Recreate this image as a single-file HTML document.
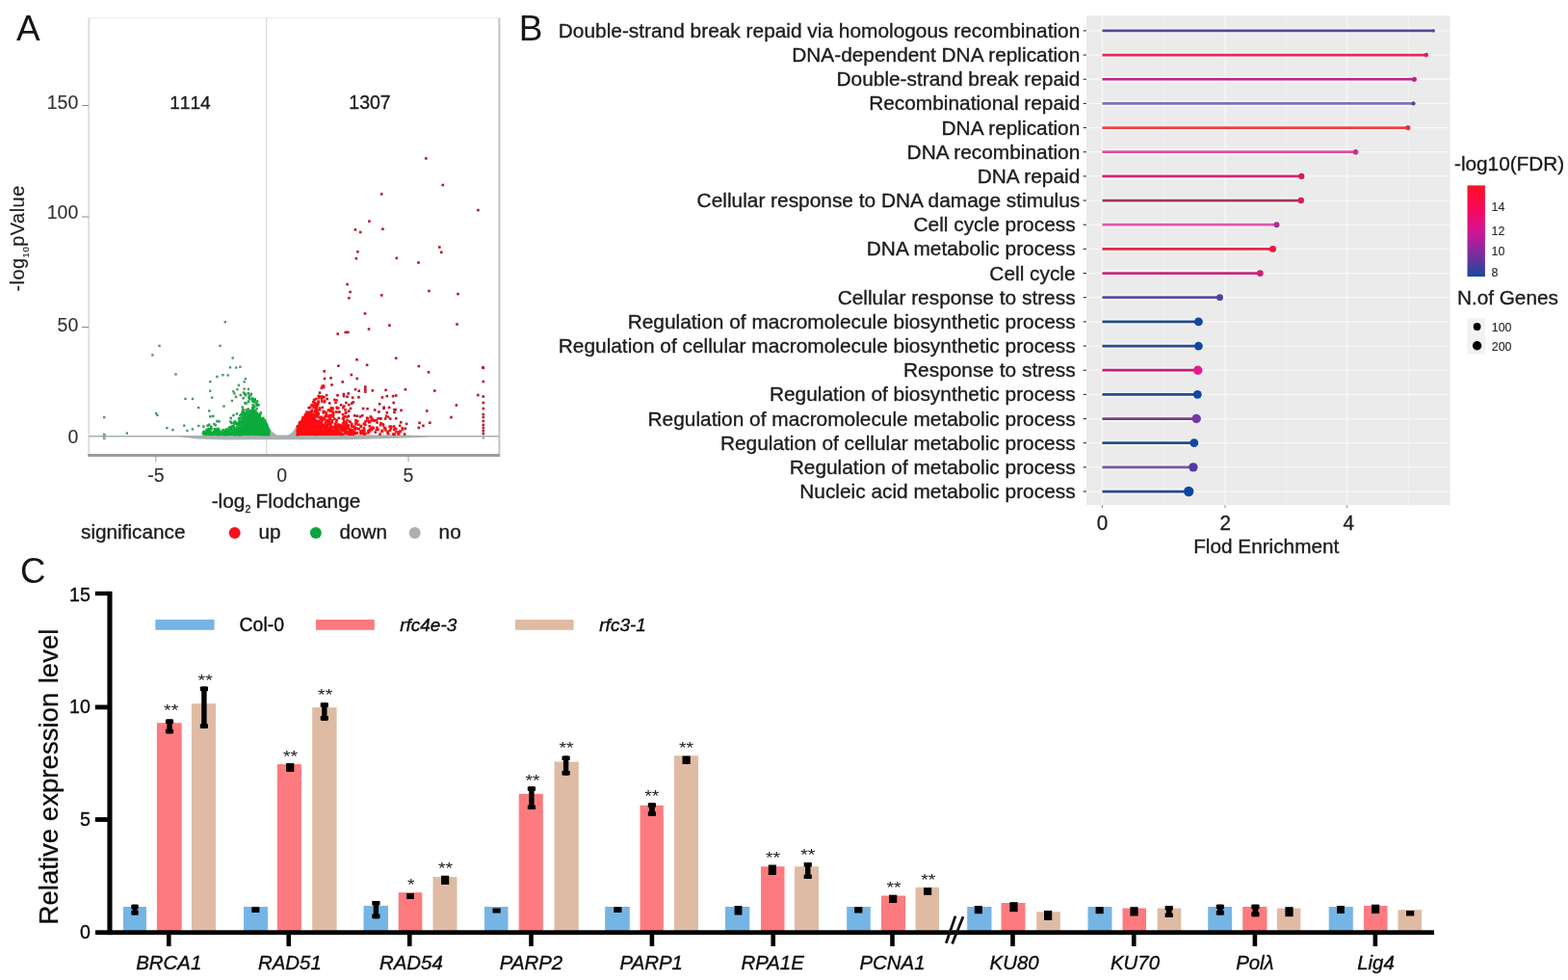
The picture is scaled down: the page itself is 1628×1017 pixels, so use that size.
<!DOCTYPE html>
<html lang="en"><head><meta charset="utf-8"><title>Figure</title>
<style>
html,body{margin:0;padding:0;background:#fff;}
body{width:1628px;height:1017px;overflow:hidden;}
svg{display:block;font-family:"Liberation Sans",sans-serif;}
</style></head><body>
<svg width="1628" height="1017" viewBox="0 0 1628 1017">
<rect width="1628" height="1017" fill="#ffffff"/>
<text x="17.0" y="41.6" font-size="37" fill="#161616">A</text>
<text x="538.7" y="41.6" font-size="37" fill="#161616">B</text>
<text x="21.0" y="605.1" font-size="36.6" fill="#161616">C</text>
<g id="panel-a-volcano">
<line x1="92.00" y1="18.60" x2="518.40" y2="18.60" stroke="#efefef" stroke-width="1.2" />
<line x1="92.30" y1="18.60" x2="92.30" y2="472.40" stroke="#dedede" stroke-width="2.0" />
<line x1="518.40" y1="18.60" x2="518.40" y2="472.40" stroke="#c4c4c4" stroke-width="2" />
<line x1="276.60" y1="18.60" x2="276.60" y2="472.40" stroke="#dcdcdc" stroke-width="1.2" />
<line x1="85.00" y1="109.50" x2="92.00" y2="109.50" stroke="#8a8a8a" stroke-width="1" />
<text transform="translate(81.3,113.0) scale(1,1.05)" font-size="19.5" text-anchor="end" fill="#303030" stroke="#303030" stroke-width="0.1">150</text>
<line x1="85.00" y1="225.00" x2="92.00" y2="225.00" stroke="#8a8a8a" stroke-width="1" />
<text transform="translate(81.3,226.9) scale(1,1.05)" font-size="19.5" text-anchor="end" fill="#303030" stroke="#303030" stroke-width="0.1">100</text>
<line x1="85.00" y1="339.50" x2="92.00" y2="339.50" stroke="#8a8a8a" stroke-width="1" />
<text transform="translate(81.3,344.0) scale(1,1.05)" font-size="19.5" text-anchor="end" fill="#303030" stroke="#303030" stroke-width="0.1">50</text>
<text transform="translate(81.3,459.5) scale(1,1.05)" font-size="19.5" text-anchor="end" fill="#303030" stroke="#303030" stroke-width="0.1">0</text>
<line x1="161.80" y1="472.40" x2="161.80" y2="479.00" stroke="#9a9a9a" stroke-width="1" />
<text x="162.00" y="499.7" font-size="19.5" text-anchor="middle" fill="#303030" stroke="#303030" stroke-width="0.1">-5</text>
<text x="292.80" y="499.7" font-size="19.5" text-anchor="middle" fill="#303030" stroke="#303030" stroke-width="0.1">0</text>
<line x1="424.00" y1="472.40" x2="424.00" y2="479.00" stroke="#9a9a9a" stroke-width="1" />
<text x="424.00" y="499.7" font-size="19.5" text-anchor="middle" fill="#303030" stroke="#303030" stroke-width="0.1">5</text>
<text x="176.20" y="113.00" font-size="19.1" text-anchor="start" fill="#1c1c1c" stroke="#1c1c1c" stroke-width="0.35" style="font-kerning:none">1114</text>
<text x="362.30" y="113.00" font-size="19.5" text-anchor="start" fill="#1c1c1c" stroke="#1c1c1c" stroke-width="0.35" >1307</text>
<text x="219.70" y="526.50" font-size="20.8" text-anchor="start" fill="#1c1c1c" stroke="#1c1c1c" stroke-width="0.35" >-log<tspan font-size="10.5" dy="5.8">2</tspan><tspan dy="-5.8" dx="-0.4"> Flodchange</tspan></text>
<text transform="translate(25.2,302.6) rotate(-90)" font-size="19.9" letter-spacing="0.5" fill="#1c1c1c" stroke="#1c1c1c" stroke-width="0.15">-log<tspan font-size="9.6" dy="4.6">10</tspan><tspan dy="-4.6">pValue</tspan></text>
<text x="84.00" y="559.20" font-size="20.75" text-anchor="start" fill="#1c1c1c" stroke="#1c1c1c" stroke-width="0.35" >significance</text>
<circle cx="243.70" cy="553.10" r="6" fill="#f5121c" />
<text x="268.50" y="559.20" font-size="20.75" text-anchor="start" fill="#1c1c1c" stroke="#1c1c1c" stroke-width="0.35" >up</text>
<circle cx="327.90" cy="553.10" r="6" fill="#0ca43c" />
<text x="352.50" y="559.20" font-size="20.75" text-anchor="start" fill="#1c1c1c" stroke="#1c1c1c" stroke-width="0.35" >down</text>
<circle cx="430.70" cy="553.10" r="6" fill="#aab0b0" />
<text x="455.60" y="559.20" font-size="20.75" text-anchor="start" fill="#1c1c1c" stroke="#1c1c1c" stroke-width="0.35" >no</text>
<g id="volcano" shape-rendering="auto">
<path d="M188 452.2 L235 451.4 L278.7 443 Q283 449.5 288 451.6 L299 451.6 Q304 449.5 308.4 441 L308.4 451 L420 451.6 L445 452.3 L445 453.4 L420 454.6 L360 456.2 L235 456.4 L205 455.4 L188 453.4 Z" fill="#a9b1b1"/>
<line x1="92.00" y1="452.70" x2="518.40" y2="452.70" stroke="#a9adad" stroke-width="1.5" />
<path d="M249 452 L249.5 440 L251.5 432 L254.5 427.5 L259 425 L264 425 L267.5 427.5 L271 433 L275 441.5 L279.2 452 Z" fill="#0cab3c"/>
<path d="M308.4 452 L308.4 443 L313 435 L317.5 429.5 L321 427.5 L324 430.5 L326.5 437 L329 443 L333 447 L340 449.5 L350 451 L350 452 Z" fill="#fb0d12"/>
<rect x="360.4" y="407.1" width="2.6" height="2.6" fill="#b8182e"/>
<rect x="392.8" y="418.0" width="2.6" height="2.6" fill="#b8182e"/>
<rect x="362.7" y="422.6" width="2.6" height="2.6" fill="#b8182e"/>
<rect x="330.7" y="406.3" width="2.6" height="2.6" fill="#b8182e"/>
<rect x="400.5" y="426.9" width="2.6" height="2.6" fill="#b8182e"/>
<rect x="393.3" y="449.3" width="2.6" height="2.6" fill="#b8182e"/>
<rect x="380.2" y="422.9" width="2.6" height="2.6" fill="#b8182e"/>
<rect x="387.9" y="424.1" width="2.6" height="2.6" fill="#b8182e"/>
<rect x="418.9" y="449.3" width="2.6" height="2.6" fill="#b8182e"/>
<rect x="340.9" y="417.1" width="2.6" height="2.6" fill="#b8182e"/>
<rect x="415.2" y="424.5" width="2.6" height="2.6" fill="#b8182e"/>
<rect x="337.8" y="408.8" width="2.6" height="2.6" fill="#b8182e"/>
<rect x="402.8" y="421.6" width="2.6" height="2.6" fill="#b8182e"/>
<rect x="358.1" y="416.7" width="2.6" height="2.6" fill="#b8182e"/>
<rect x="395.6" y="411.1" width="2.6" height="2.6" fill="#b8182e"/>
<rect x="413.9" y="440.5" width="2.6" height="2.6" fill="#b8182e"/>
<rect x="349.2" y="409.0" width="2.6" height="2.6" fill="#b8182e"/>
<rect x="352.8" y="419.0" width="2.6" height="2.6" fill="#b8182e"/>
<rect x="372.6" y="431.1" width="2.6" height="2.6" fill="#b8182e"/>
<rect x="366.9" y="430.0" width="2.6" height="2.6" fill="#b8182e"/>
<rect x="355.7" y="409.9" width="2.6" height="2.6" fill="#b8182e"/>
<rect x="360.9" y="425.3" width="2.6" height="2.6" fill="#b8182e"/>
<rect x="369.4" y="430.4" width="2.6" height="2.6" fill="#b8182e"/>
<rect x="333.5" y="421.6" width="2.6" height="2.6" fill="#b8182e"/>
<rect x="390.2" y="437.2" width="2.6" height="2.6" fill="#b8182e"/>
<rect x="393.2" y="432.8" width="2.6" height="2.6" fill="#b8182e"/>
<rect x="355.9" y="420.3" width="2.6" height="2.6" fill="#b8182e"/>
<rect x="408.2" y="426.6" width="2.6" height="2.6" fill="#b8182e"/>
<rect x="374.9" y="430.0" width="2.6" height="2.6" fill="#b8182e"/>
<rect x="351.1" y="426.2" width="2.6" height="2.6" fill="#b8182e"/>
<rect x="350.6" y="432.6" width="2.6" height="2.6" fill="#b8182e"/>
<rect x="408.1" y="423.9" width="2.6" height="2.6" fill="#b8182e"/>
<rect x="365.4" y="416.1" width="2.6" height="2.6" fill="#b8182e"/>
<rect x="403.9" y="433.3" width="2.6" height="2.6" fill="#b8182e"/>
<rect x="360.6" y="430.5" width="2.6" height="2.6" fill="#b8182e"/>
<rect x="338.4" y="412.7" width="2.6" height="2.6" fill="#b8182e"/>
<rect x="319.4" y="422.0" width="2.6" height="2.6" fill="#b8182e"/>
<rect x="397.4" y="421.4" width="2.6" height="2.6" fill="#b8182e"/>
<rect x="383.5" y="431.2" width="2.6" height="2.6" fill="#b8182e"/>
<rect x="398.8" y="433.2" width="2.6" height="2.6" fill="#b8182e"/>
<rect x="388.5" y="447.3" width="2.6" height="2.6" fill="#b8182e"/>
<rect x="397.2" y="422.6" width="2.6" height="2.6" fill="#b8182e"/>
<rect x="419.6" y="443.4" width="2.6" height="2.6" fill="#b8182e"/>
<rect x="355.6" y="407.7" width="2.6" height="2.6" fill="#b8182e"/>
<rect x="364.0" y="417.3" width="2.6" height="2.6" fill="#b8182e"/>
<rect x="322.4" y="424.5" width="2.6" height="2.6" fill="#ee1018"/>
<rect x="359.2" y="434.8" width="2.6" height="2.6" fill="#ee1018"/>
<rect x="380.4" y="433.0" width="2.6" height="2.6" fill="#ee1018"/>
<rect x="416.6" y="444.5" width="2.6" height="2.6" fill="#ee1018"/>
<rect x="362.3" y="436.6" width="2.6" height="2.6" fill="#ee1018"/>
<rect x="330.9" y="422.2" width="2.6" height="2.6" fill="#ee1018"/>
<rect x="407.5" y="449.4" width="2.6" height="2.6" fill="#ee1018"/>
<rect x="348.2" y="414.1" width="2.6" height="2.6" fill="#ee1018"/>
<rect x="391.2" y="444.5" width="2.6" height="2.6" fill="#ee1018"/>
<rect x="355.0" y="421.8" width="2.6" height="2.6" fill="#ee1018"/>
<rect x="391.2" y="433.1" width="2.6" height="2.6" fill="#ee1018"/>
<rect x="329.5" y="415.3" width="2.6" height="2.6" fill="#ee1018"/>
<rect x="382.4" y="440.9" width="2.6" height="2.6" fill="#ee1018"/>
<rect x="335.5" y="415.9" width="2.6" height="2.6" fill="#ee1018"/>
<rect x="395.7" y="445.8" width="2.6" height="2.6" fill="#ee1018"/>
<rect x="347.8" y="426.2" width="2.6" height="2.6" fill="#ee1018"/>
<rect x="373.4" y="441.7" width="2.6" height="2.6" fill="#ee1018"/>
<rect x="407.8" y="441.2" width="2.6" height="2.6" fill="#ee1018"/>
<rect x="390.2" y="442.5" width="2.6" height="2.6" fill="#ee1018"/>
<rect x="348.4" y="421.5" width="2.6" height="2.6" fill="#ee1018"/>
<rect x="395.2" y="446.5" width="2.6" height="2.6" fill="#ee1018"/>
<rect x="357.2" y="423.9" width="2.6" height="2.6" fill="#ee1018"/>
<rect x="373.7" y="440.6" width="2.6" height="2.6" fill="#ee1018"/>
<rect x="395.6" y="445.7" width="2.6" height="2.6" fill="#ee1018"/>
<rect x="379.8" y="432.4" width="2.6" height="2.6" fill="#ee1018"/>
<rect x="361.6" y="436.3" width="2.6" height="2.6" fill="#ee1018"/>
<rect x="359.3" y="431.5" width="2.6" height="2.6" fill="#ee1018"/>
<rect x="401.8" y="431.5" width="2.6" height="2.6" fill="#ee1018"/>
<rect x="350.3" y="426.4" width="2.6" height="2.6" fill="#ee1018"/>
<rect x="348.8" y="422.4" width="2.6" height="2.6" fill="#ee1018"/>
<rect x="347.2" y="416.6" width="2.6" height="2.6" fill="#ee1018"/>
<rect x="407.1" y="449.5" width="2.6" height="2.6" fill="#ee1018"/>
<rect x="378.0" y="439.8" width="2.6" height="2.6" fill="#ee1018"/>
<rect x="394.1" y="437.8" width="2.6" height="2.6" fill="#ee1018"/>
<rect x="416.6" y="442.9" width="2.6" height="2.6" fill="#ee1018"/>
<rect x="354.6" y="428.8" width="2.6" height="2.6" fill="#ee1018"/>
<rect x="357.5" y="427.5" width="2.6" height="2.6" fill="#ee1018"/>
<rect x="346.1" y="413.6" width="2.6" height="2.6" fill="#ee1018"/>
<rect x="349.9" y="422.1" width="2.6" height="2.6" fill="#ee1018"/>
<rect x="399.8" y="430.4" width="2.6" height="2.6" fill="#ee1018"/>
<rect x="321.0" y="421.2" width="2.6" height="2.6" fill="#ee1018"/>
<rect x="358.1" y="426.5" width="2.6" height="2.6" fill="#ee1018"/>
<rect x="401.3" y="447.9" width="2.6" height="2.6" fill="#ee1018"/>
<rect x="407.9" y="444.6" width="2.6" height="2.6" fill="#ee1018"/>
<rect x="378.1" y="436.2" width="2.6" height="2.6" fill="#ee1018"/>
<rect x="396.2" y="438.8" width="2.6" height="2.6" fill="#ee1018"/>
<rect x="377.3" y="438.4" width="2.6" height="2.6" fill="#ee1018"/>
<rect x="371.4" y="444.1" width="2.6" height="2.6" fill="#ee1018"/>
<rect x="404.2" y="441.3" width="2.6" height="2.6" fill="#ee1018"/>
<rect x="360.6" y="440.2" width="2.6" height="2.6" fill="#ee1018"/>
<rect x="403.6" y="445.4" width="2.6" height="2.6" fill="#ee1018"/>
<rect x="335.9" y="414.6" width="2.6" height="2.6" fill="#ee1018"/>
<rect x="354.7" y="433.2" width="2.6" height="2.6" fill="#ee1018"/>
<rect x="329.4" y="409.6" width="2.6" height="2.6" fill="#ee1018"/>
<rect x="382.0" y="437.0" width="2.6" height="2.6" fill="#ee1018"/>
<rect x="325.6" y="413.3" width="2.6" height="2.6" fill="#ee1018"/>
<rect x="384.1" y="432.1" width="2.6" height="2.6" fill="#ee1018"/>
<rect x="335.4" y="425.9" width="2.6" height="2.6" fill="#ee1018"/>
<rect x="408.7" y="443.3" width="2.6" height="2.6" fill="#ee1018"/>
<rect x="397.9" y="443.0" width="2.6" height="2.6" fill="#ee1018"/>
<rect x="408.4" y="449.4" width="2.6" height="2.6" fill="#ee1018"/>
<rect x="334.6" y="425.7" width="2.6" height="2.6" fill="#ee1018"/>
<rect x="344.7" y="427.7" width="2.6" height="2.6" fill="#ee1018"/>
<rect x="371.1" y="439.4" width="2.6" height="2.6" fill="#ee1018"/>
<rect x="330.3" y="409.9" width="2.6" height="2.6" fill="#ee1018"/>
<rect x="327.1" y="412.7" width="2.6" height="2.6" fill="#ee1018"/>
<rect x="334.9" y="400.6" width="2.6" height="2.6" fill="#ee1018"/>
<rect x="346.0" y="433.4" width="2.6" height="2.6" fill="#ee1018"/>
<rect x="332.9" y="415.2" width="2.6" height="2.6" fill="#ee1018"/>
<rect x="334.5" y="399.0" width="2.6" height="2.6" fill="#ee1018"/>
<rect x="333.4" y="399.5" width="2.6" height="2.6" fill="#ee1018"/>
<rect x="409.9" y="443.9" width="2.6" height="2.6" fill="#ee1018"/>
<rect x="323.9" y="416.0" width="2.6" height="2.6" fill="#ee1018"/>
<rect x="333.8" y="410.4" width="2.6" height="2.6" fill="#ee1018"/>
<rect x="386.4" y="442.5" width="2.6" height="2.6" fill="#ee1018"/>
<rect x="369.4" y="447.9" width="2.6" height="2.6" fill="#ee1018"/>
<rect x="376.6" y="438.7" width="2.6" height="2.6" fill="#ee1018"/>
<rect x="335.1" y="410.9" width="2.6" height="2.6" fill="#ee1018"/>
<rect x="339.5" y="424.3" width="2.6" height="2.6" fill="#ee1018"/>
<rect x="393.7" y="439.8" width="2.6" height="2.6" fill="#ee1018"/>
<rect x="336.6" y="430.4" width="2.6" height="2.6" fill="#ee1018"/>
<rect x="368.2" y="439.0" width="2.6" height="2.6" fill="#ee1018"/>
<rect x="368.1" y="434.9" width="2.6" height="2.6" fill="#ee1018"/>
<rect x="347.9" y="436.5" width="2.6" height="2.6" fill="#ee1018"/>
<rect x="332.5" y="401.5" width="2.6" height="2.6" fill="#ee1018"/>
<rect x="398.7" y="442.8" width="2.6" height="2.6" fill="#ee1018"/>
<rect x="334.6" y="427.1" width="2.6" height="2.6" fill="#ee1018"/>
<rect x="363.8" y="440.3" width="2.6" height="2.6" fill="#ee1018"/>
<rect x="401.9" y="448.9" width="2.6" height="2.6" fill="#ee1018"/>
<rect x="403.3" y="441.6" width="2.6" height="2.6" fill="#ee1018"/>
<rect x="376.6" y="443.0" width="2.6" height="2.6" fill="#ee1018"/>
<rect x="348.3" y="434.5" width="2.6" height="2.6" fill="#ee1018"/>
<rect x="389.5" y="444.6" width="2.6" height="2.6" fill="#ee1018"/>
<rect x="357.1" y="430.8" width="2.6" height="2.6" fill="#ee1018"/>
<rect x="364.0" y="438.6" width="2.6" height="2.6" fill="#ee1018"/>
<rect x="322.3" y="418.9" width="2.6" height="2.6" fill="#ee1018"/>
<rect x="340.8" y="425.0" width="2.6" height="2.6" fill="#fb0d12"/>
<rect x="344.1" y="422.7" width="2.6" height="2.6" fill="#fb0d12"/>
<rect x="382.9" y="436.0" width="2.6" height="2.6" fill="#fb0d12"/>
<rect x="329.3" y="416.9" width="2.6" height="2.6" fill="#fb0d12"/>
<rect x="369.9" y="435.8" width="2.6" height="2.6" fill="#fb0d12"/>
<rect x="324.7" y="414.0" width="2.6" height="2.6" fill="#fb0d12"/>
<rect x="355.6" y="433.1" width="2.6" height="2.6" fill="#fb0d12"/>
<rect x="382.3" y="435.7" width="2.6" height="2.6" fill="#fb0d12"/>
<rect x="344.2" y="422.4" width="2.6" height="2.6" fill="#fb0d12"/>
<rect x="409.9" y="446.9" width="2.6" height="2.6" fill="#fb0d12"/>
<rect x="355.6" y="431.3" width="2.6" height="2.6" fill="#fb0d12"/>
<rect x="355.0" y="449.3" width="2.6" height="2.6" fill="#fb0d12"/>
<rect x="344.6" y="431.2" width="2.6" height="2.6" fill="#fb0d12"/>
<rect x="337.4" y="426.9" width="2.6" height="2.6" fill="#fb0d12"/>
<rect x="329.2" y="416.0" width="2.6" height="2.6" fill="#fb0d12"/>
<rect x="323.4" y="419.8" width="2.6" height="2.6" fill="#fb0d12"/>
<rect x="396.8" y="440.2" width="2.6" height="2.6" fill="#fb0d12"/>
<rect x="405.1" y="441.8" width="2.6" height="2.6" fill="#fb0d12"/>
<rect x="370.0" y="443.4" width="2.6" height="2.6" fill="#fb0d12"/>
<rect x="330.5" y="423.9" width="2.6" height="2.6" fill="#fb0d12"/>
<rect x="369.2" y="435.9" width="2.6" height="2.6" fill="#fb0d12"/>
<rect x="399.1" y="445.1" width="2.6" height="2.6" fill="#fb0d12"/>
<rect x="324.4" y="421.9" width="2.6" height="2.6" fill="#fb0d12"/>
<rect x="337.5" y="428.9" width="2.6" height="2.6" fill="#fb0d12"/>
<rect x="385.5" y="443.7" width="2.6" height="2.6" fill="#fb0d12"/>
<rect x="404.5" y="443.6" width="2.6" height="2.6" fill="#fb0d12"/>
<rect x="342.6" y="422.0" width="2.6" height="2.6" fill="#fb0d12"/>
<rect x="386.8" y="435.3" width="2.6" height="2.6" fill="#fb0d12"/>
<rect x="376.9" y="444.5" width="2.6" height="2.6" fill="#fb0d12"/>
<rect x="381.1" y="447.9" width="2.6" height="2.6" fill="#fb0d12"/>
<rect x="401.5" y="446.6" width="2.6" height="2.6" fill="#fb0d12"/>
<rect x="412.5" y="449.0" width="2.6" height="2.6" fill="#fb0d12"/>
<rect x="317.2" y="426.3" width="2.6" height="2.6" fill="#fb0d12"/>
<rect x="356.3" y="436.5" width="2.6" height="2.6" fill="#fb0d12"/>
<rect x="413.9" y="446.4" width="2.6" height="2.6" fill="#fb0d12"/>
<rect x="384.6" y="442.4" width="2.6" height="2.6" fill="#fb0d12"/>
<rect x="412.8" y="448.6" width="2.6" height="2.6" fill="#fb0d12"/>
<rect x="346.7" y="438.5" width="2.6" height="2.6" fill="#fb0d12"/>
<rect x="401.2" y="447.2" width="2.6" height="2.6" fill="#fb0d12"/>
<rect x="325.4" y="416.9" width="2.6" height="2.6" fill="#fb0d12"/>
<rect x="354.7" y="438.1" width="2.6" height="2.6" fill="#fb0d12"/>
<rect x="332.8" y="412.9" width="2.6" height="2.6" fill="#fb0d12"/>
<rect x="385.4" y="433.9" width="2.6" height="2.6" fill="#fb0d12"/>
<rect x="342.2" y="425.5" width="2.6" height="2.6" fill="#fb0d12"/>
<rect x="319.7" y="426.4" width="2.6" height="2.6" fill="#fb0d12"/>
<rect x="368.8" y="447.6" width="2.6" height="2.6" fill="#fb0d12"/>
<rect x="329.9" y="411.7" width="2.6" height="2.6" fill="#fb0d12"/>
<rect x="364.3" y="441.7" width="2.6" height="2.6" fill="#fb0d12"/>
<rect x="387.0" y="435.1" width="2.6" height="2.6" fill="#fb0d12"/>
<rect x="412.5" y="448.8" width="2.6" height="2.6" fill="#fb0d12"/>
<rect x="344.7" y="429.8" width="2.6" height="2.6" fill="#fb0d12"/>
<rect x="381.1" y="446.0" width="2.6" height="2.6" fill="#fb0d12"/>
<rect x="367.7" y="442.8" width="2.6" height="2.6" fill="#fb0d12"/>
<rect x="368.8" y="438.1" width="2.6" height="2.6" fill="#fb0d12"/>
<rect x="387.4" y="434.8" width="2.6" height="2.6" fill="#fb0d12"/>
<rect x="366.6" y="442.7" width="2.6" height="2.6" fill="#fb0d12"/>
<rect x="343.6" y="436.7" width="2.6" height="2.6" fill="#fb0d12"/>
<rect x="335.8" y="431.9" width="2.6" height="2.6" fill="#fb0d12"/>
<rect x="368.1" y="437.5" width="2.6" height="2.6" fill="#fb0d12"/>
<rect x="389.6" y="434.8" width="2.6" height="2.6" fill="#fb0d12"/>
<rect x="344.7" y="426.3" width="2.6" height="2.6" fill="#fb0d12"/>
<rect x="381.7" y="446.4" width="2.6" height="2.6" fill="#fb0d12"/>
<rect x="316.0" y="428.7" width="2.6" height="2.6" fill="#fb0d12"/>
<rect x="340.8" y="430.1" width="2.6" height="2.6" fill="#fb0d12"/>
<rect x="381.7" y="446.5" width="2.6" height="2.6" fill="#fb0d12"/>
<rect x="332.4" y="410.5" width="2.6" height="2.6" fill="#fb0d12"/>
<rect x="329.2" y="427.9" width="2.6" height="2.6" fill="#fb0d12"/>
<rect x="377.2" y="449.4" width="2.6" height="2.6" fill="#fb0d12"/>
<rect x="316.2" y="429.0" width="2.6" height="2.6" fill="#fb0d12"/>
<rect x="328.4" y="418.7" width="2.6" height="2.6" fill="#fb0d12"/>
<rect x="414.5" y="446.6" width="2.6" height="2.6" fill="#fb0d12"/>
<rect x="316.6" y="431.0" width="2.6" height="2.6" fill="#fb0d12"/>
<rect x="335.3" y="433.7" width="2.6" height="2.6" fill="#fb0d12"/>
<rect x="379.9" y="435.3" width="2.6" height="2.6" fill="#fb0d12"/>
<rect x="321.7" y="426.6" width="2.6" height="2.6" fill="#fb0d12"/>
<rect x="382.0" y="446.6" width="2.6" height="2.6" fill="#fb0d12"/>
<rect x="344.6" y="428.1" width="2.6" height="2.6" fill="#fb0d12"/>
<rect x="316.3" y="428.9" width="2.6" height="2.6" fill="#fb0d12"/>
<rect x="326.7" y="417.6" width="2.6" height="2.6" fill="#fb0d12"/>
<rect x="383.5" y="443.7" width="2.6" height="2.6" fill="#fb0d12"/>
<rect x="382.3" y="444.7" width="2.6" height="2.6" fill="#fb0d12"/>
<rect x="343.4" y="436.8" width="2.6" height="2.6" fill="#fb0d12"/>
<rect x="341.6" y="449.4" width="2.6" height="2.6" fill="#fb0d12"/>
<rect x="368.3" y="448.2" width="2.6" height="2.6" fill="#fb0d12"/>
<rect x="378.2" y="448.6" width="2.6" height="2.6" fill="#fb0d12"/>
<rect x="353.3" y="449.7" width="2.6" height="2.6" fill="#fb0d12"/>
<rect x="332.4" y="431.4" width="2.6" height="2.6" fill="#fb0d12"/>
<rect x="355.9" y="435.9" width="2.6" height="2.6" fill="#fb0d12"/>
<rect x="322.6" y="425.8" width="2.6" height="2.6" fill="#fb0d12"/>
<rect x="327.9" y="421.0" width="2.6" height="2.6" fill="#fb0d12"/>
<rect x="412.2" y="447.2" width="2.6" height="2.6" fill="#fb0d12"/>
<rect x="338.1" y="430.7" width="2.6" height="2.6" fill="#fb0d12"/>
<rect x="366.2" y="441.5" width="2.6" height="2.6" fill="#fb0d12"/>
<rect x="329.3" y="428.8" width="2.6" height="2.6" fill="#fb0d12"/>
<rect x="368.1" y="448.4" width="2.6" height="2.6" fill="#fb0d12"/>
<rect x="341.8" y="429.5" width="2.6" height="2.6" fill="#fb0d12"/>
<rect x="358.4" y="437.3" width="2.6" height="2.6" fill="#fb0d12"/>
<rect x="367.2" y="442.5" width="2.6" height="2.6" fill="#fb0d12"/>
<rect x="318.7" y="427.0" width="2.6" height="2.6" fill="#fb0d12"/>
<rect x="325.4" y="426.3" width="2.6" height="2.6" fill="#fb0d12"/>
<rect x="328.6" y="427.7" width="2.6" height="2.6" fill="#fb0d12"/>
<rect x="315.4" y="429.8" width="2.6" height="2.6" fill="#fb0d12"/>
<rect x="326.7" y="424.7" width="2.6" height="2.6" fill="#fb0d12"/>
<rect x="341.6" y="433.0" width="2.6" height="2.6" fill="#fb0d12"/>
<rect x="332.5" y="449.4" width="2.6" height="2.6" fill="#fb0d12"/>
<rect x="360.2" y="441.7" width="2.6" height="2.6" fill="#fb0d12"/>
<rect x="326.0" y="424.9" width="2.6" height="2.6" fill="#fb0d12"/>
<rect x="360.9" y="443.8" width="2.6" height="2.6" fill="#fb0d12"/>
<rect x="335.7" y="449.5" width="2.6" height="2.6" fill="#fb0d12"/>
<rect x="336.7" y="437.0" width="2.6" height="2.6" fill="#fb0d12"/>
<rect x="353.4" y="449.1" width="2.6" height="2.6" fill="#fb0d12"/>
<rect x="337.9" y="434.7" width="2.6" height="2.6" fill="#fb0d12"/>
<rect x="367.3" y="444.2" width="2.6" height="2.6" fill="#fb0d12"/>
<rect x="326.6" y="419.6" width="2.6" height="2.6" fill="#fb0d12"/>
<rect x="313.6" y="431.9" width="2.6" height="2.6" fill="#fb0d12"/>
<rect x="326.7" y="421.5" width="2.6" height="2.6" fill="#fb0d12"/>
<rect x="338.0" y="435.0" width="2.6" height="2.6" fill="#fb0d12"/>
<rect x="341.5" y="423.8" width="2.6" height="2.6" fill="#fb0d12"/>
<rect x="384.2" y="444.9" width="2.6" height="2.6" fill="#fb0d12"/>
<rect x="332.1" y="432.4" width="2.6" height="2.6" fill="#fb0d12"/>
<rect x="332.4" y="432.1" width="2.6" height="2.6" fill="#fb0d12"/>
<rect x="340.4" y="430.1" width="2.6" height="2.6" fill="#fb0d12"/>
<rect x="362.2" y="444.3" width="2.6" height="2.6" fill="#fb0d12"/>
<rect x="384.8" y="434.9" width="2.6" height="2.6" fill="#fb0d12"/>
<rect x="358.6" y="439.5" width="2.6" height="2.6" fill="#fb0d12"/>
<rect x="343.2" y="423.9" width="2.6" height="2.6" fill="#fb0d12"/>
<rect x="359.2" y="440.8" width="2.6" height="2.6" fill="#fb0d12"/>
<rect x="346.8" y="439.7" width="2.6" height="2.6" fill="#fb0d12"/>
<rect x="343.4" y="435.0" width="2.6" height="2.6" fill="#fb0d12"/>
<rect x="325.0" y="419.2" width="2.6" height="2.6" fill="#fb0d12"/>
<rect x="356.0" y="438.5" width="2.6" height="2.6" fill="#fb0d12"/>
<rect x="313.6" y="432.4" width="2.6" height="2.6" fill="#fb0d12"/>
<rect x="317.3" y="432.4" width="2.6" height="2.6" fill="#fb0d12"/>
<rect x="357.5" y="448.3" width="2.6" height="2.6" fill="#fb0d12"/>
<rect x="344.8" y="441.8" width="2.6" height="2.6" fill="#fb0d12"/>
<rect x="328.0" y="424.4" width="2.6" height="2.6" fill="#fb0d12"/>
<rect x="338.4" y="447.9" width="2.6" height="2.6" fill="#fb0d12"/>
<rect x="350.2" y="439.7" width="2.6" height="2.6" fill="#fb0d12"/>
<rect x="342.3" y="430.3" width="2.6" height="2.6" fill="#fb0d12"/>
<rect x="342.8" y="441.7" width="2.6" height="2.6" fill="#fb0d12"/>
<rect x="338.7" y="435.7" width="2.6" height="2.6" fill="#fb0d12"/>
<rect x="329.8" y="431.8" width="2.6" height="2.6" fill="#fb0d12"/>
<rect x="328.5" y="430.5" width="2.6" height="2.6" fill="#fb0d12"/>
<rect x="334.4" y="433.1" width="2.6" height="2.6" fill="#fb0d12"/>
<rect x="335.3" y="448.8" width="2.6" height="2.6" fill="#fb0d12"/>
<rect x="337.8" y="435.8" width="2.6" height="2.6" fill="#fb0d12"/>
<rect x="340.5" y="432.1" width="2.6" height="2.6" fill="#fb0d12"/>
<rect x="351.5" y="439.7" width="2.6" height="2.6" fill="#fb0d12"/>
<rect x="327.2" y="423.6" width="2.6" height="2.6" fill="#fb0d12"/>
<rect x="374.0" y="448.6" width="2.6" height="2.6" fill="#fb0d12"/>
<rect x="334.2" y="434.5" width="2.6" height="2.6" fill="#fb0d12"/>
<rect x="373.1" y="447.2" width="2.6" height="2.6" fill="#fb0d12"/>
<rect x="353.6" y="440.4" width="2.6" height="2.6" fill="#fb0d12"/>
<rect x="313.1" y="432.5" width="2.6" height="2.6" fill="#fb0d12"/>
<rect x="342.2" y="441.5" width="2.6" height="2.6" fill="#fb0d12"/>
<rect x="332.2" y="433.1" width="2.6" height="2.6" fill="#fb0d12"/>
<rect x="327.6" y="422.6" width="2.6" height="2.6" fill="#fb0d12"/>
<rect x="372.9" y="448.0" width="2.6" height="2.6" fill="#fb0d12"/>
<rect x="342.2" y="437.6" width="2.6" height="2.6" fill="#fb0d12"/>
<rect x="336.8" y="438.1" width="2.6" height="2.6" fill="#fb0d12"/>
<rect x="327.2" y="421.5" width="2.6" height="2.6" fill="#fb0d12"/>
<rect x="356.4" y="439.5" width="2.6" height="2.6" fill="#fb0d12"/>
<rect x="331.1" y="447.1" width="2.6" height="2.6" fill="#fb0d12"/>
<rect x="338.9" y="439.5" width="2.6" height="2.6" fill="#fb0d12"/>
<rect x="338.6" y="439.8" width="2.6" height="2.6" fill="#fb0d12"/>
<rect x="327.1" y="426.3" width="2.6" height="2.6" fill="#fb0d12"/>
<rect x="342.1" y="439.5" width="2.6" height="2.6" fill="#fb0d12"/>
<rect x="332.3" y="447.0" width="2.6" height="2.6" fill="#fb0d12"/>
<rect x="341.1" y="437.8" width="2.6" height="2.6" fill="#fb0d12"/>
<rect x="356.7" y="447.5" width="2.6" height="2.6" fill="#fb0d12"/>
<rect x="377.0" y="446.4" width="2.6" height="2.6" fill="#fb0d12"/>
<rect x="322.7" y="438.1" width="2.6" height="2.6" fill="#fb0d12"/>
<rect x="313.4" y="433.9" width="2.6" height="2.6" fill="#fb0d12"/>
<rect x="338.1" y="447.9" width="2.6" height="2.6" fill="#fb0d12"/>
<rect x="329.8" y="449.3" width="2.6" height="2.6" fill="#fb0d12"/>
<rect x="350.0" y="449.3" width="2.6" height="2.6" fill="#fb0d12"/>
<rect x="340.2" y="439.6" width="2.6" height="2.6" fill="#fb0d12"/>
<rect x="327.4" y="428.4" width="2.6" height="2.6" fill="#fb0d12"/>
<rect x="313.3" y="434.1" width="2.6" height="2.6" fill="#fb0d12"/>
<rect x="349.6" y="439.6" width="2.6" height="2.6" fill="#fb0d12"/>
<rect x="332.3" y="437.2" width="2.6" height="2.6" fill="#fb0d12"/>
<rect x="328.4" y="425.5" width="2.6" height="2.6" fill="#fb0d12"/>
<rect x="352.0" y="440.5" width="2.6" height="2.6" fill="#fb0d12"/>
<rect x="307.6" y="441.2" width="2.6" height="2.6" fill="#fb0d12"/>
<rect x="351.7" y="448.5" width="2.6" height="2.6" fill="#fb0d12"/>
<rect x="376.2" y="445.9" width="2.6" height="2.6" fill="#fb0d12"/>
<rect x="349.3" y="439.4" width="2.6" height="2.6" fill="#fb0d12"/>
<rect x="346.8" y="441.6" width="2.6" height="2.6" fill="#fb0d12"/>
<rect x="326.6" y="430.5" width="2.6" height="2.6" fill="#fb0d12"/>
<rect x="373.3" y="446.8" width="2.6" height="2.6" fill="#fb0d12"/>
<rect x="326.0" y="429.2" width="2.6" height="2.6" fill="#fb0d12"/>
<rect x="331.4" y="434.1" width="2.6" height="2.6" fill="#fb0d12"/>
<rect x="352.4" y="447.2" width="2.6" height="2.6" fill="#fb0d12"/>
<rect x="332.4" y="445.7" width="2.6" height="2.6" fill="#fb0d12"/>
<rect x="376.0" y="445.6" width="2.6" height="2.6" fill="#fb0d12"/>
<rect x="323.8" y="429.2" width="2.6" height="2.6" fill="#fb0d12"/>
<rect x="340.6" y="435.1" width="2.6" height="2.6" fill="#fb0d12"/>
<rect x="358.2" y="448.0" width="2.6" height="2.6" fill="#fb0d12"/>
<rect x="345.8" y="443.0" width="2.6" height="2.6" fill="#fb0d12"/>
<rect x="322.0" y="437.3" width="2.6" height="2.6" fill="#fb0d12"/>
<rect x="340.8" y="435.1" width="2.6" height="2.6" fill="#fb0d12"/>
<rect x="317.3" y="434.7" width="2.6" height="2.6" fill="#fb0d12"/>
<rect x="339.1" y="447.3" width="2.6" height="2.6" fill="#fb0d12"/>
<rect x="338.4" y="441.1" width="2.6" height="2.6" fill="#fb0d12"/>
<rect x="350.7" y="447.0" width="2.6" height="2.6" fill="#fb0d12"/>
<rect x="325.2" y="432.4" width="2.6" height="2.6" fill="#fb0d12"/>
<rect x="321.6" y="428.6" width="2.6" height="2.6" fill="#fb0d12"/>
<rect x="350.8" y="449.0" width="2.6" height="2.6" fill="#fb0d12"/>
<rect x="337.9" y="439.9" width="2.6" height="2.6" fill="#fb0d12"/>
<rect x="334.5" y="447.0" width="2.6" height="2.6" fill="#fb0d12"/>
<rect x="346.8" y="449.1" width="2.6" height="2.6" fill="#fb0d12"/>
<rect x="320.8" y="431.5" width="2.6" height="2.6" fill="#fb0d12"/>
<rect x="348.3" y="444.6" width="2.6" height="2.6" fill="#fb0d12"/>
<rect x="320.8" y="430.7" width="2.6" height="2.6" fill="#fb0d12"/>
<rect x="307.3" y="445.6" width="2.6" height="2.6" fill="#fb0d12"/>
<rect x="335.7" y="446.7" width="2.6" height="2.6" fill="#fb0d12"/>
<rect x="360.9" y="449.2" width="2.6" height="2.6" fill="#fb0d12"/>
<rect x="307.4" y="449.6" width="2.6" height="2.6" fill="#fb0d12"/>
<rect x="351.2" y="448.2" width="2.6" height="2.6" fill="#fb0d12"/>
<rect x="361.3" y="449.1" width="2.6" height="2.6" fill="#fb0d12"/>
<rect x="330.3" y="435.6" width="2.6" height="2.6" fill="#fb0d12"/>
<rect x="322.8" y="437.9" width="2.6" height="2.6" fill="#fb0d12"/>
<rect x="328.9" y="437.7" width="2.6" height="2.6" fill="#fb0d12"/>
<rect x="373.3" y="446.6" width="2.6" height="2.6" fill="#fb0d12"/>
<rect x="357.1" y="441.0" width="2.6" height="2.6" fill="#fb0d12"/>
<rect x="322.0" y="434.8" width="2.6" height="2.6" fill="#fb0d12"/>
<rect x="332.3" y="436.5" width="2.6" height="2.6" fill="#fb0d12"/>
<rect x="348.4" y="443.9" width="2.6" height="2.6" fill="#fb0d12"/>
<rect x="330.3" y="445.9" width="2.6" height="2.6" fill="#fb0d12"/>
<rect x="315.4" y="434.6" width="2.6" height="2.6" fill="#fb0d12"/>
<rect x="324.8" y="433.0" width="2.6" height="2.6" fill="#fb0d12"/>
<rect x="350.6" y="447.8" width="2.6" height="2.6" fill="#fb0d12"/>
<rect x="307.7" y="441.7" width="2.6" height="2.6" fill="#fb0d12"/>
<rect x="324.7" y="437.4" width="2.6" height="2.6" fill="#fb0d12"/>
<rect x="374.7" y="448.1" width="2.6" height="2.6" fill="#fb0d12"/>
<rect x="374.4" y="445.6" width="2.6" height="2.6" fill="#fb0d12"/>
<rect x="310.4" y="437.7" width="2.6" height="2.6" fill="#fb0d12"/>
<rect x="348.4" y="443.2" width="2.6" height="2.6" fill="#fb0d12"/>
<rect x="342.7" y="449.0" width="2.6" height="2.6" fill="#fb0d12"/>
<rect x="336.4" y="443.1" width="2.6" height="2.6" fill="#fb0d12"/>
<rect x="333.9" y="447.0" width="2.6" height="2.6" fill="#fb0d12"/>
<rect x="365.7" y="446.1" width="2.6" height="2.6" fill="#fb0d12"/>
<rect x="325.7" y="437.1" width="2.6" height="2.6" fill="#fb0d12"/>
<rect x="318.8" y="433.5" width="2.6" height="2.6" fill="#fb0d12"/>
<rect x="321.0" y="432.2" width="2.6" height="2.6" fill="#fb0d12"/>
<rect x="360.9" y="448.1" width="2.6" height="2.6" fill="#fb0d12"/>
<rect x="323.3" y="439.8" width="2.6" height="2.6" fill="#fb0d12"/>
<rect x="334.3" y="445.6" width="2.6" height="2.6" fill="#fb0d12"/>
<rect x="327.1" y="435.2" width="2.6" height="2.6" fill="#fb0d12"/>
<rect x="334.6" y="445.9" width="2.6" height="2.6" fill="#fb0d12"/>
<rect x="315.0" y="433.9" width="2.6" height="2.6" fill="#fb0d12"/>
<rect x="328.8" y="448.6" width="2.6" height="2.6" fill="#fb0d12"/>
<rect x="339.4" y="438.0" width="2.6" height="2.6" fill="#fb0d12"/>
<rect x="321.0" y="432.2" width="2.6" height="2.6" fill="#fb0d12"/>
<rect x="317.8" y="435.9" width="2.6" height="2.6" fill="#fb0d12"/>
<rect x="310.1" y="437.0" width="2.6" height="2.6" fill="#fb0d12"/>
<rect x="347.6" y="442.3" width="2.6" height="2.6" fill="#fb0d12"/>
<rect x="339.9" y="443.2" width="2.6" height="2.6" fill="#fb0d12"/>
<rect x="328.0" y="436.1" width="2.6" height="2.6" fill="#fb0d12"/>
<rect x="315.5" y="434.7" width="2.6" height="2.6" fill="#fb0d12"/>
<rect x="348.3" y="448.8" width="2.6" height="2.6" fill="#fb0d12"/>
<rect x="329.8" y="446.2" width="2.6" height="2.6" fill="#fb0d12"/>
<rect x="360.2" y="448.7" width="2.6" height="2.6" fill="#fb0d12"/>
<rect x="309.5" y="438.0" width="2.6" height="2.6" fill="#fb0d12"/>
<rect x="316.4" y="435.6" width="2.6" height="2.6" fill="#fb0d12"/>
<rect x="323.6" y="448.8" width="2.6" height="2.6" fill="#fb0d12"/>
<rect x="332.9" y="437.4" width="2.6" height="2.6" fill="#fb0d12"/>
<rect x="323.9" y="439.3" width="2.6" height="2.6" fill="#fb0d12"/>
<rect x="357.9" y="442.6" width="2.6" height="2.6" fill="#fb0d12"/>
<rect x="326.8" y="431.4" width="2.6" height="2.6" fill="#fb0d12"/>
<rect x="341.6" y="442.8" width="2.6" height="2.6" fill="#fb0d12"/>
<rect x="348.6" y="442.6" width="2.6" height="2.6" fill="#fb0d12"/>
<rect x="321.3" y="435.6" width="2.6" height="2.6" fill="#fb0d12"/>
<rect x="344.4" y="449.0" width="2.6" height="2.6" fill="#fb0d12"/>
<rect x="325.8" y="436.5" width="2.6" height="2.6" fill="#fb0d12"/>
<rect x="323.1" y="428.9" width="2.6" height="2.6" fill="#fb0d12"/>
<rect x="310.3" y="437.5" width="2.6" height="2.6" fill="#fb0d12"/>
<rect x="339.6" y="444.1" width="2.6" height="2.6" fill="#fb0d12"/>
<rect x="313.7" y="437.5" width="2.6" height="2.6" fill="#fb0d12"/>
<rect x="325.0" y="433.5" width="2.6" height="2.6" fill="#fb0d12"/>
<rect x="328.1" y="438.2" width="2.6" height="2.6" fill="#fb0d12"/>
<rect x="358.7" y="446.6" width="2.6" height="2.6" fill="#fb0d12"/>
<rect x="319.9" y="436.4" width="2.6" height="2.6" fill="#fb0d12"/>
<rect x="375.6" y="447.4" width="2.6" height="2.6" fill="#fb0d12"/>
<rect x="340.4" y="442.8" width="2.6" height="2.6" fill="#fb0d12"/>
<rect x="320.9" y="436.7" width="2.6" height="2.6" fill="#fb0d12"/>
<rect x="360.8" y="447.3" width="2.6" height="2.6" fill="#fb0d12"/>
<rect x="352.3" y="443.3" width="2.6" height="2.6" fill="#fb0d12"/>
<rect x="354.2" y="441.3" width="2.6" height="2.6" fill="#fb0d12"/>
<rect x="318.7" y="436.6" width="2.6" height="2.6" fill="#fb0d12"/>
<rect x="353.6" y="445.7" width="2.6" height="2.6" fill="#fb0d12"/>
<rect x="318.5" y="436.3" width="2.6" height="2.6" fill="#fb0d12"/>
<rect x="319.7" y="432.8" width="2.6" height="2.6" fill="#fb0d12"/>
<rect x="375.3" y="448.4" width="2.6" height="2.6" fill="#fb0d12"/>
<rect x="322.0" y="430.2" width="2.6" height="2.6" fill="#fb0d12"/>
<rect x="317.8" y="436.1" width="2.6" height="2.6" fill="#fb0d12"/>
<rect x="365.8" y="449.5" width="2.6" height="2.6" fill="#fb0d12"/>
<rect x="319.0" y="437.8" width="2.6" height="2.6" fill="#fb0d12"/>
<rect x="324.4" y="433.2" width="2.6" height="2.6" fill="#fb0d12"/>
<rect x="364.0" y="449.0" width="2.6" height="2.6" fill="#fb0d12"/>
<rect x="325.0" y="433.7" width="2.6" height="2.6" fill="#fb0d12"/>
<rect x="321.2" y="432.7" width="2.6" height="2.6" fill="#fb0d12"/>
<rect x="375.4" y="447.7" width="2.6" height="2.6" fill="#fb0d12"/>
<rect x="349.0" y="448.2" width="2.6" height="2.6" fill="#fb0d12"/>
<rect x="349.5" y="441.6" width="2.6" height="2.6" fill="#fb0d12"/>
<rect x="342.1" y="442.4" width="2.6" height="2.6" fill="#fb0d12"/>
<rect x="332.0" y="444.5" width="2.6" height="2.6" fill="#fb0d12"/>
<rect x="348.6" y="441.5" width="2.6" height="2.6" fill="#fb0d12"/>
<rect x="325.1" y="433.1" width="2.6" height="2.6" fill="#fb0d12"/>
<rect x="345.4" y="447.8" width="2.6" height="2.6" fill="#fb0d12"/>
<rect x="349.6" y="443.7" width="2.6" height="2.6" fill="#fb0d12"/>
<rect x="345.0" y="448.0" width="2.6" height="2.6" fill="#fb0d12"/>
<rect x="335.0" y="440.0" width="2.6" height="2.6" fill="#fb0d12"/>
<rect x="314.1" y="437.7" width="2.6" height="2.6" fill="#fb0d12"/>
<rect x="325.4" y="439.5" width="2.6" height="2.6" fill="#fb0d12"/>
<rect x="325.4" y="436.2" width="2.6" height="2.6" fill="#fb0d12"/>
<rect x="345.8" y="448.3" width="2.6" height="2.6" fill="#fb0d12"/>
<rect x="308.6" y="440.8" width="2.6" height="2.6" fill="#fb0d12"/>
<rect x="325.0" y="434.4" width="2.6" height="2.6" fill="#fb0d12"/>
<rect x="327.4" y="449.5" width="2.6" height="2.6" fill="#fb0d12"/>
<rect x="343.9" y="444.5" width="2.6" height="2.6" fill="#fb0d12"/>
<rect x="339.7" y="446.2" width="2.6" height="2.6" fill="#fb0d12"/>
<rect x="349.3" y="441.9" width="2.6" height="2.6" fill="#fb0d12"/>
<rect x="347.0" y="445.1" width="2.6" height="2.6" fill="#fb0d12"/>
<rect x="358.3" y="443.9" width="2.6" height="2.6" fill="#fb0d12"/>
<rect x="336.7" y="447.3" width="2.6" height="2.6" fill="#fb0d12"/>
<rect x="350.1" y="445.7" width="2.6" height="2.6" fill="#fb0d12"/>
<rect x="330.5" y="436.5" width="2.6" height="2.6" fill="#fb0d12"/>
<rect x="328.9" y="445.1" width="2.6" height="2.6" fill="#fb0d12"/>
<rect x="332.2" y="443.5" width="2.6" height="2.6" fill="#fb0d12"/>
<rect x="322.1" y="430.7" width="2.6" height="2.6" fill="#fb0d12"/>
<rect x="362.8" y="449.5" width="2.6" height="2.6" fill="#fb0d12"/>
<rect x="318.9" y="438.2" width="2.6" height="2.6" fill="#fb0d12"/>
<rect x="357.3" y="446.3" width="2.6" height="2.6" fill="#fb0d12"/>
<rect x="321.8" y="430.6" width="2.6" height="2.6" fill="#fb0d12"/>
<rect x="361.0" y="447.1" width="2.6" height="2.6" fill="#fb0d12"/>
<rect x="352.7" y="443.7" width="2.6" height="2.6" fill="#fb0d12"/>
<rect x="310.7" y="437.6" width="2.6" height="2.6" fill="#fb0d12"/>
<rect x="349.1" y="447.4" width="2.6" height="2.6" fill="#fb0d12"/>
<rect x="307.9" y="449.6" width="2.6" height="2.6" fill="#fb0d12"/>
<rect x="340.5" y="446.9" width="2.6" height="2.6" fill="#fb0d12"/>
<rect x="327.6" y="449.1" width="2.6" height="2.6" fill="#fb0d12"/>
<rect x="337.9" y="444.5" width="2.6" height="2.6" fill="#fb0d12"/>
<rect x="321.7" y="431.4" width="2.6" height="2.6" fill="#fb0d12"/>
<rect x="321.8" y="440.5" width="2.6" height="2.6" fill="#fb0d12"/>
<rect x="318.3" y="438.0" width="2.6" height="2.6" fill="#fb0d12"/>
<rect x="343.9" y="447.8" width="2.6" height="2.6" fill="#fb0d12"/>
<rect x="325.7" y="449.5" width="2.6" height="2.6" fill="#fb0d12"/>
<rect x="342.9" y="445.1" width="2.6" height="2.6" fill="#fb0d12"/>
<rect x="342.8" y="445.3" width="2.6" height="2.6" fill="#fb0d12"/>
<rect x="350.8" y="441.6" width="2.6" height="2.6" fill="#fb0d12"/>
<rect x="327.6" y="437.1" width="2.6" height="2.6" fill="#fb0d12"/>
<rect x="323.7" y="437.1" width="2.6" height="2.6" fill="#fb0d12"/>
<rect x="325.7" y="435.2" width="2.6" height="2.6" fill="#fb0d12"/>
<rect x="352.8" y="444.1" width="2.6" height="2.6" fill="#fb0d12"/>
<rect x="352.6" y="443.5" width="2.6" height="2.6" fill="#fb0d12"/>
<rect x="329.7" y="437.4" width="2.6" height="2.6" fill="#fb0d12"/>
<rect x="343.3" y="445.9" width="2.6" height="2.6" fill="#fb0d12"/>
<rect x="341.9" y="447.6" width="2.6" height="2.6" fill="#fb0d12"/>
<rect x="330.4" y="437.1" width="2.6" height="2.6" fill="#fb0d12"/>
<rect x="364.2" y="445.3" width="2.6" height="2.6" fill="#fb0d12"/>
<rect x="363.9" y="445.5" width="2.6" height="2.6" fill="#fb0d12"/>
<rect x="307.9" y="449.3" width="2.6" height="2.6" fill="#fb0d12"/>
<rect x="346.1" y="447.9" width="2.6" height="2.6" fill="#fb0d12"/>
<rect x="366.1" y="447.7" width="2.6" height="2.6" fill="#fb0d12"/>
<rect x="310.9" y="436.8" width="2.6" height="2.6" fill="#fb0d12"/>
<rect x="366.1" y="446.4" width="2.6" height="2.6" fill="#fb0d12"/>
<rect x="327.4" y="449.2" width="2.6" height="2.6" fill="#fb0d12"/>
<rect x="336.3" y="443.5" width="2.6" height="2.6" fill="#fb0d12"/>
<rect x="335.4" y="443.3" width="2.6" height="2.6" fill="#fb0d12"/>
<rect x="316.3" y="438.5" width="2.6" height="2.6" fill="#fb0d12"/>
<rect x="324.2" y="430.8" width="2.6" height="2.6" fill="#fb0d12"/>
<rect x="356.8" y="443.3" width="2.6" height="2.6" fill="#fb0d12"/>
<rect x="341.9" y="446.3" width="2.6" height="2.6" fill="#fb0d12"/>
<rect x="344.2" y="446.7" width="2.6" height="2.6" fill="#fb0d12"/>
<rect x="323.3" y="434.1" width="2.6" height="2.6" fill="#fb0d12"/>
<rect x="339.0" y="445.2" width="2.6" height="2.6" fill="#fb0d12"/>
<rect x="311.8" y="437.6" width="2.6" height="2.6" fill="#fb0d12"/>
<rect x="322.3" y="448.8" width="2.6" height="2.6" fill="#fb0d12"/>
<rect x="340.6" y="445.2" width="2.6" height="2.6" fill="#fb0d12"/>
<rect x="347.7" y="447.2" width="2.6" height="2.6" fill="#fb0d12"/>
<rect x="335.9" y="444.5" width="2.6" height="2.6" fill="#fb0d12"/>
<rect x="311.1" y="436.8" width="2.6" height="2.6" fill="#fb0d12"/>
<rect x="356.8" y="444.9" width="2.6" height="2.6" fill="#fb0d12"/>
<rect x="322.2" y="448.7" width="2.6" height="2.6" fill="#fb0d12"/>
<rect x="356.8" y="443.9" width="2.6" height="2.6" fill="#fb0d12"/>
<rect x="345.3" y="446.1" width="2.6" height="2.6" fill="#fb0d12"/>
<rect x="324.3" y="431.0" width="2.6" height="2.6" fill="#fb0d12"/>
<rect x="321.8" y="431.6" width="2.6" height="2.6" fill="#fb0d12"/>
<rect x="364.8" y="448.0" width="2.6" height="2.6" fill="#fb0d12"/>
<rect x="338.5" y="442.5" width="2.6" height="2.6" fill="#fb0d12"/>
<rect x="322.1" y="442.4" width="2.6" height="2.6" fill="#fb0d12"/>
<rect x="355.1" y="441.7" width="2.6" height="2.6" fill="#fb0d12"/>
<rect x="356.8" y="444.2" width="2.6" height="2.6" fill="#fb0d12"/>
<rect x="311.9" y="437.4" width="2.6" height="2.6" fill="#fb0d12"/>
<rect x="362.3" y="445.8" width="2.6" height="2.6" fill="#fb0d12"/>
<rect x="339.9" y="444.5" width="2.6" height="2.6" fill="#fb0d12"/>
<rect x="336.9" y="445.2" width="2.6" height="2.6" fill="#fb0d12"/>
<rect x="330.4" y="437.9" width="2.6" height="2.6" fill="#fb0d12"/>
<rect x="336.5" y="441.5" width="2.6" height="2.6" fill="#fb0d12"/>
<rect x="319.8" y="441.1" width="2.6" height="2.6" fill="#fb0d12"/>
<rect x="335.2" y="441.8" width="2.6" height="2.6" fill="#fb0d12"/>
<rect x="330.4" y="442.9" width="2.6" height="2.6" fill="#fb0d12"/>
<rect x="322.9" y="442.0" width="2.6" height="2.6" fill="#fb0d12"/>
<rect x="364.9" y="446.7" width="2.6" height="2.6" fill="#fb0d12"/>
<rect x="327.4" y="448.9" width="2.6" height="2.6" fill="#fb0d12"/>
<rect x="320.8" y="441.2" width="2.6" height="2.6" fill="#fb0d12"/>
<rect x="322.6" y="448.3" width="2.6" height="2.6" fill="#fb0d12"/>
<rect x="363.1" y="445.4" width="2.6" height="2.6" fill="#fb0d12"/>
<rect x="364.9" y="446.5" width="2.6" height="2.6" fill="#fb0d12"/>
<rect x="328.5" y="441.4" width="2.6" height="2.6" fill="#fb0d12"/>
<rect x="345.1" y="447.3" width="2.6" height="2.6" fill="#fb0d12"/>
<rect x="347.9" y="447.7" width="2.6" height="2.6" fill="#fb0d12"/>
<rect x="344.3" y="447.2" width="2.6" height="2.6" fill="#fb0d12"/>
<rect x="334.3" y="440.2" width="2.6" height="2.6" fill="#fb0d12"/>
<rect x="313.0" y="438.3" width="2.6" height="2.6" fill="#fb0d12"/>
<rect x="327.5" y="448.3" width="2.6" height="2.6" fill="#fb0d12"/>
<rect x="311.6" y="438.3" width="2.6" height="2.6" fill="#fb0d12"/>
<rect x="336.0" y="441.5" width="2.6" height="2.6" fill="#fb0d12"/>
<rect x="324.8" y="449.1" width="2.6" height="2.6" fill="#fb0d12"/>
<rect x="324.8" y="449.0" width="2.6" height="2.6" fill="#fb0d12"/>
<rect x="324.4" y="447.0" width="2.6" height="2.6" fill="#fb0d12"/>
<rect x="330.3" y="440.6" width="2.6" height="2.6" fill="#fb0d12"/>
<rect x="328.3" y="440.1" width="2.6" height="2.6" fill="#fb0d12"/>
<rect x="335.1" y="441.3" width="2.6" height="2.6" fill="#fb0d12"/>
<rect x="342.3" y="444.7" width="2.6" height="2.6" fill="#fb0d12"/>
<rect x="319.4" y="439.3" width="2.6" height="2.6" fill="#fb0d12"/>
<rect x="328.0" y="440.1" width="2.6" height="2.6" fill="#fb0d12"/>
<rect x="330.6" y="441.2" width="2.6" height="2.6" fill="#fb0d12"/>
<rect x="356.7" y="445.9" width="2.6" height="2.6" fill="#fb0d12"/>
<rect x="354.9" y="444.1" width="2.6" height="2.6" fill="#fb0d12"/>
<rect x="326.9" y="447.7" width="2.6" height="2.6" fill="#fb0d12"/>
<rect x="362.7" y="448.8" width="2.6" height="2.6" fill="#fb0d12"/>
<rect x="355.1" y="444.8" width="2.6" height="2.6" fill="#fb0d12"/>
<rect x="313.8" y="436.6" width="2.6" height="2.6" fill="#fb0d12"/>
<rect x="318.0" y="439.8" width="2.6" height="2.6" fill="#fb0d12"/>
<rect x="311.4" y="438.1" width="2.6" height="2.6" fill="#fb0d12"/>
<rect x="313.1" y="435.7" width="2.6" height="2.6" fill="#fb0d12"/>
<rect x="354.8" y="443.8" width="2.6" height="2.6" fill="#fb0d12"/>
<rect x="312.0" y="438.1" width="2.6" height="2.6" fill="#fb0d12"/>
<rect x="335.0" y="441.9" width="2.6" height="2.6" fill="#fb0d12"/>
<rect x="356.8" y="445.8" width="2.6" height="2.6" fill="#fb0d12"/>
<rect x="364.5" y="447.8" width="2.6" height="2.6" fill="#fb0d12"/>
<rect x="324.6" y="448.8" width="2.6" height="2.6" fill="#fb0d12"/>
<rect x="321.6" y="442.6" width="2.6" height="2.6" fill="#fb0d12"/>
<rect x="364.5" y="447.2" width="2.6" height="2.6" fill="#fb0d12"/>
<rect x="319.2" y="440.6" width="2.6" height="2.6" fill="#fb0d12"/>
<rect x="315.9" y="440.3" width="2.6" height="2.6" fill="#fb0d12"/>
<rect x="330.7" y="438.9" width="2.6" height="2.6" fill="#fb0d12"/>
<rect x="309.1" y="440.9" width="2.6" height="2.6" fill="#fb0d12"/>
<rect x="332.7" y="442.7" width="2.6" height="2.6" fill="#fb0d12"/>
<rect x="322.6" y="444.4" width="2.6" height="2.6" fill="#fb0d12"/>
<rect x="364.3" y="448.1" width="2.6" height="2.6" fill="#fb0d12"/>
<rect x="325.6" y="441.0" width="2.6" height="2.6" fill="#fb0d12"/>
<rect x="308.0" y="445.5" width="2.6" height="2.6" fill="#fb0d12"/>
<rect x="334.7" y="442.1" width="2.6" height="2.6" fill="#fb0d12"/>
<rect x="332.1" y="442.1" width="2.6" height="2.6" fill="#fb0d12"/>
<rect x="312.2" y="435.5" width="2.6" height="2.6" fill="#fb0d12"/>
<rect x="334.1" y="439.7" width="2.6" height="2.6" fill="#fb0d12"/>
<rect x="320.2" y="448.6" width="2.6" height="2.6" fill="#fb0d12"/>
<rect x="355.0" y="443.4" width="2.6" height="2.6" fill="#fb0d12"/>
<rect x="354.6" y="445.3" width="2.6" height="2.6" fill="#fb0d12"/>
<rect x="325.4" y="442.8" width="2.6" height="2.6" fill="#fb0d12"/>
<rect x="327.9" y="447.6" width="2.6" height="2.6" fill="#fb0d12"/>
<rect x="332.0" y="441.1" width="2.6" height="2.6" fill="#fb0d12"/>
<rect x="332.4" y="438.7" width="2.6" height="2.6" fill="#fb0d12"/>
<rect x="355.6" y="444.1" width="2.6" height="2.6" fill="#fb0d12"/>
<rect x="328.6" y="442.0" width="2.6" height="2.6" fill="#fb0d12"/>
<rect x="326.0" y="442.8" width="2.6" height="2.6" fill="#fb0d12"/>
<rect x="326.8" y="441.8" width="2.6" height="2.6" fill="#fb0d12"/>
<rect x="308.7" y="449.6" width="2.6" height="2.6" fill="#fb0d12"/>
<rect x="328.1" y="443.3" width="2.6" height="2.6" fill="#fb0d12"/>
<rect x="318.4" y="441.0" width="2.6" height="2.6" fill="#fb0d12"/>
<rect x="308.2" y="442.6" width="2.6" height="2.6" fill="#fb0d12"/>
<rect x="316.5" y="440.4" width="2.6" height="2.6" fill="#fb0d12"/>
<rect x="331.8" y="439.1" width="2.6" height="2.6" fill="#fb0d12"/>
<rect x="362.8" y="447.7" width="2.6" height="2.6" fill="#fb0d12"/>
<rect x="333.7" y="441.4" width="2.6" height="2.6" fill="#fb0d12"/>
<rect x="330.3" y="441.0" width="2.6" height="2.6" fill="#fb0d12"/>
<rect x="326.1" y="441.3" width="2.6" height="2.6" fill="#fb0d12"/>
<rect x="321.6" y="445.0" width="2.6" height="2.6" fill="#fb0d12"/>
<rect x="319.3" y="448.8" width="2.6" height="2.6" fill="#fb0d12"/>
<rect x="322.5" y="443.6" width="2.6" height="2.6" fill="#fb0d12"/>
<rect x="361.8" y="446.3" width="2.6" height="2.6" fill="#fb0d12"/>
<rect x="326.3" y="442.9" width="2.6" height="2.6" fill="#fb0d12"/>
<rect x="316.3" y="449.1" width="2.6" height="2.6" fill="#fb0d12"/>
<rect x="320.3" y="448.4" width="2.6" height="2.6" fill="#fb0d12"/>
<rect x="327.5" y="441.9" width="2.6" height="2.6" fill="#fb0d12"/>
<rect x="326.8" y="442.4" width="2.6" height="2.6" fill="#fb0d12"/>
<rect x="332.2" y="440.9" width="2.6" height="2.6" fill="#fb0d12"/>
<rect x="321.2" y="444.6" width="2.6" height="2.6" fill="#fb0d12"/>
<rect x="314.2" y="449.4" width="2.6" height="2.6" fill="#fb0d12"/>
<rect x="327.6" y="446.4" width="2.6" height="2.6" fill="#fb0d12"/>
<rect x="316.9" y="441.2" width="2.6" height="2.6" fill="#fb0d12"/>
<rect x="327.0" y="444.3" width="2.6" height="2.6" fill="#fb0d12"/>
<rect x="331.0" y="440.2" width="2.6" height="2.6" fill="#fb0d12"/>
<rect x="333.0" y="441.0" width="2.6" height="2.6" fill="#fb0d12"/>
<rect x="324.1" y="442.5" width="2.6" height="2.6" fill="#fb0d12"/>
<rect x="308.9" y="441.9" width="2.6" height="2.6" fill="#fb0d12"/>
<rect x="325.7" y="445.4" width="2.6" height="2.6" fill="#fb0d12"/>
<rect x="320.4" y="443.0" width="2.6" height="2.6" fill="#fb0d12"/>
<rect x="315.2" y="441.2" width="2.6" height="2.6" fill="#fb0d12"/>
<rect x="326.5" y="442.8" width="2.6" height="2.6" fill="#fb0d12"/>
<rect x="308.2" y="446.1" width="2.6" height="2.6" fill="#fb0d12"/>
<rect x="314.9" y="449.2" width="2.6" height="2.6" fill="#fb0d12"/>
<rect x="355.7" y="443.8" width="2.6" height="2.6" fill="#fb0d12"/>
<rect x="318.8" y="441.4" width="2.6" height="2.6" fill="#fb0d12"/>
<rect x="325.3" y="446.6" width="2.6" height="2.6" fill="#fb0d12"/>
<rect x="308.2" y="448.8" width="2.6" height="2.6" fill="#fb0d12"/>
<rect x="325.3" y="447.5" width="2.6" height="2.6" fill="#fb0d12"/>
<rect x="317.5" y="448.5" width="2.6" height="2.6" fill="#fb0d12"/>
<rect x="314.0" y="449.4" width="2.6" height="2.6" fill="#fb0d12"/>
<rect x="325.1" y="447.3" width="2.6" height="2.6" fill="#fb0d12"/>
<rect x="313.1" y="440.8" width="2.6" height="2.6" fill="#fb0d12"/>
<rect x="316.5" y="439.7" width="2.6" height="2.6" fill="#fb0d12"/>
<rect x="327.1" y="443.6" width="2.6" height="2.6" fill="#fb0d12"/>
<rect x="314.0" y="449.4" width="2.6" height="2.6" fill="#fb0d12"/>
<rect x="316.9" y="448.7" width="2.6" height="2.6" fill="#fb0d12"/>
<rect x="320.3" y="443.2" width="2.6" height="2.6" fill="#fb0d12"/>
<rect x="322.4" y="444.4" width="2.6" height="2.6" fill="#fb0d12"/>
<rect x="323.1" y="447.3" width="2.6" height="2.6" fill="#fb0d12"/>
<rect x="322.5" y="446.2" width="2.6" height="2.6" fill="#fb0d12"/>
<rect x="327.9" y="444.6" width="2.6" height="2.6" fill="#fb0d12"/>
<rect x="333.1" y="441.7" width="2.6" height="2.6" fill="#fb0d12"/>
<rect x="363.3" y="448.1" width="2.6" height="2.6" fill="#fb0d12"/>
<rect x="326.6" y="447.0" width="2.6" height="2.6" fill="#fb0d12"/>
<rect x="320.2" y="447.3" width="2.6" height="2.6" fill="#fb0d12"/>
<rect x="318.6" y="442.1" width="2.6" height="2.6" fill="#fb0d12"/>
<rect x="325.1" y="443.6" width="2.6" height="2.6" fill="#fb0d12"/>
<rect x="307.9" y="448.1" width="2.6" height="2.6" fill="#fb0d12"/>
<rect x="318.1" y="441.5" width="2.6" height="2.6" fill="#fb0d12"/>
<rect x="326.7" y="445.8" width="2.6" height="2.6" fill="#fb0d12"/>
<rect x="308.5" y="444.1" width="2.6" height="2.6" fill="#fb0d12"/>
<rect x="320.6" y="447.0" width="2.6" height="2.6" fill="#fb0d12"/>
<rect x="316.2" y="442.2" width="2.6" height="2.6" fill="#fb0d12"/>
<rect x="315.0" y="441.7" width="2.6" height="2.6" fill="#fb0d12"/>
<rect x="308.7" y="445.2" width="2.6" height="2.6" fill="#fb0d12"/>
<rect x="314.1" y="448.9" width="2.6" height="2.6" fill="#fb0d12"/>
<rect x="310.2" y="442.3" width="2.6" height="2.6" fill="#fb0d12"/>
<rect x="325.1" y="443.4" width="2.6" height="2.6" fill="#fb0d12"/>
<rect x="324.9" y="444.8" width="2.6" height="2.6" fill="#fb0d12"/>
<rect x="325.4" y="444.3" width="2.6" height="2.6" fill="#fb0d12"/>
<rect x="320.6" y="446.9" width="2.6" height="2.6" fill="#fb0d12"/>
<rect x="318.2" y="448.2" width="2.6" height="2.6" fill="#fb0d12"/>
<rect x="320.4" y="445.7" width="2.6" height="2.6" fill="#fb0d12"/>
<rect x="320.2" y="443.6" width="2.6" height="2.6" fill="#fb0d12"/>
<rect x="318.5" y="443.5" width="2.6" height="2.6" fill="#fb0d12"/>
<rect x="309.7" y="442.2" width="2.6" height="2.6" fill="#fb0d12"/>
<rect x="320.1" y="443.9" width="2.6" height="2.6" fill="#fb0d12"/>
<rect x="309.4" y="449.4" width="2.6" height="2.6" fill="#fb0d12"/>
<rect x="314.4" y="441.4" width="2.6" height="2.6" fill="#fb0d12"/>
<rect x="309.1" y="449.0" width="2.6" height="2.6" fill="#fb0d12"/>
<rect x="313.6" y="441.2" width="2.6" height="2.6" fill="#fb0d12"/>
<rect x="308.1" y="443.8" width="2.6" height="2.6" fill="#fb0d12"/>
<rect x="320.7" y="446.5" width="2.6" height="2.6" fill="#fb0d12"/>
<rect x="308.4" y="446.5" width="2.6" height="2.6" fill="#fb0d12"/>
<rect x="312.3" y="449.4" width="2.6" height="2.6" fill="#fb0d12"/>
<rect x="310.5" y="442.8" width="2.6" height="2.6" fill="#fb0d12"/>
<rect x="309.9" y="449.4" width="2.6" height="2.6" fill="#fb0d12"/>
<rect x="319.9" y="446.3" width="2.6" height="2.6" fill="#fb0d12"/>
<rect x="316.9" y="446.9" width="2.6" height="2.6" fill="#fb0d12"/>
<rect x="319.6" y="446.4" width="2.6" height="2.6" fill="#fb0d12"/>
<rect x="309.9" y="443.0" width="2.6" height="2.6" fill="#fb0d12"/>
<rect x="314.8" y="445.2" width="2.6" height="2.6" fill="#fb0d12"/>
<rect x="316.0" y="445.6" width="2.6" height="2.6" fill="#fb0d12"/>
<rect x="320.1" y="446.6" width="2.6" height="2.6" fill="#fb0d12"/>
<rect x="312.2" y="441.7" width="2.6" height="2.6" fill="#fb0d12"/>
<rect x="316.6" y="446.6" width="2.6" height="2.6" fill="#fb0d12"/>
<rect x="311.3" y="449.4" width="2.6" height="2.6" fill="#fb0d12"/>
<rect x="310.6" y="442.0" width="2.6" height="2.6" fill="#fb0d12"/>
<rect x="316.7" y="447.1" width="2.6" height="2.6" fill="#fb0d12"/>
<rect x="315.2" y="448.5" width="2.6" height="2.6" fill="#fb0d12"/>
<rect x="317.9" y="448.0" width="2.6" height="2.6" fill="#fb0d12"/>
<rect x="317.0" y="446.1" width="2.6" height="2.6" fill="#fb0d12"/>
<rect x="309.9" y="449.4" width="2.6" height="2.6" fill="#fb0d12"/>
<rect x="315.9" y="445.4" width="2.6" height="2.6" fill="#fb0d12"/>
<rect x="314.3" y="444.4" width="2.6" height="2.6" fill="#fb0d12"/>
<rect x="316.1" y="445.8" width="2.6" height="2.6" fill="#fb0d12"/>
<rect x="314.3" y="442.0" width="2.6" height="2.6" fill="#fb0d12"/>
<rect x="316.1" y="443.7" width="2.6" height="2.6" fill="#fb0d12"/>
<rect x="314.3" y="448.3" width="2.6" height="2.6" fill="#fb0d12"/>
<rect x="311.3" y="449.4" width="2.6" height="2.6" fill="#fb0d12"/>
<rect x="317.7" y="445.1" width="2.6" height="2.6" fill="#fb0d12"/>
<rect x="310.6" y="449.3" width="2.6" height="2.6" fill="#fb0d12"/>
<rect x="316.4" y="442.5" width="2.6" height="2.6" fill="#fb0d12"/>
<rect x="318.5" y="447.2" width="2.6" height="2.6" fill="#fb0d12"/>
<rect x="311.5" y="441.9" width="2.6" height="2.6" fill="#fb0d12"/>
<rect x="310.8" y="442.3" width="2.6" height="2.6" fill="#fb0d12"/>
<rect x="318.7" y="444.7" width="2.6" height="2.6" fill="#fb0d12"/>
<rect x="316.3" y="442.9" width="2.6" height="2.6" fill="#fb0d12"/>
<rect x="309.4" y="446.1" width="2.6" height="2.6" fill="#fb0d12"/>
<rect x="311.9" y="442.1" width="2.6" height="2.6" fill="#fb0d12"/>
<rect x="311.6" y="441.0" width="2.6" height="2.6" fill="#fb0d12"/>
<rect x="315.7" y="447.5" width="2.6" height="2.6" fill="#fb0d12"/>
<rect x="311.5" y="442.9" width="2.6" height="2.6" fill="#fb0d12"/>
<rect x="313.5" y="442.0" width="2.6" height="2.6" fill="#fb0d12"/>
<rect x="316.1" y="442.8" width="2.6" height="2.6" fill="#fb0d12"/>
<rect x="318.1" y="446.5" width="2.6" height="2.6" fill="#fb0d12"/>
<rect x="318.3" y="446.1" width="2.6" height="2.6" fill="#fb0d12"/>
<rect x="314.7" y="444.7" width="2.6" height="2.6" fill="#fb0d12"/>
<rect x="309.7" y="445.6" width="2.6" height="2.6" fill="#fb0d12"/>
<rect x="313.7" y="443.1" width="2.6" height="2.6" fill="#fb0d12"/>
<rect x="312.1" y="443.1" width="2.6" height="2.6" fill="#fb0d12"/>
<rect x="309.8" y="449.0" width="2.6" height="2.6" fill="#fb0d12"/>
<rect x="312.4" y="449.0" width="2.6" height="2.6" fill="#fb0d12"/>
<rect x="313.1" y="447.7" width="2.6" height="2.6" fill="#fb0d12"/>
<rect x="313.7" y="445.9" width="2.6" height="2.6" fill="#fb0d12"/>
<rect x="313.8" y="443.2" width="2.6" height="2.6" fill="#fb0d12"/>
<rect x="313.5" y="444.7" width="2.6" height="2.6" fill="#fb0d12"/>
<rect x="315.6" y="446.8" width="2.6" height="2.6" fill="#fb0d12"/>
<rect x="312.7" y="447.9" width="2.6" height="2.6" fill="#fb0d12"/>
<rect x="313.6" y="444.1" width="2.6" height="2.6" fill="#fb0d12"/>
<rect x="311.0" y="443.2" width="2.6" height="2.6" fill="#fb0d12"/>
<rect x="313.5" y="444.2" width="2.6" height="2.6" fill="#fb0d12"/>
<rect x="315.3" y="447.1" width="2.6" height="2.6" fill="#fb0d12"/>
<rect x="312.1" y="447.8" width="2.6" height="2.6" fill="#fb0d12"/>
<rect x="310.4" y="448.7" width="2.6" height="2.6" fill="#fb0d12"/>
<rect x="311.6" y="448.5" width="2.6" height="2.6" fill="#fb0d12"/>
<rect x="309.0" y="446.8" width="2.6" height="2.6" fill="#fb0d12"/>
<rect x="309.5" y="448.5" width="2.6" height="2.6" fill="#fb0d12"/>
<rect x="310.2" y="443.8" width="2.6" height="2.6" fill="#fb0d12"/>
<rect x="309.8" y="448.4" width="2.6" height="2.6" fill="#fb0d12"/>
<rect x="314.1" y="446.7" width="2.6" height="2.6" fill="#fb0d12"/>
<rect x="311.8" y="446.4" width="2.6" height="2.6" fill="#fb0d12"/>
<rect x="312.0" y="443.6" width="2.6" height="2.6" fill="#fb0d12"/>
<rect x="311.2" y="448.4" width="2.6" height="2.6" fill="#fb0d12"/>
<rect x="311.0" y="446.1" width="2.6" height="2.6" fill="#fb0d12"/>
<rect x="309.7" y="446.5" width="2.6" height="2.6" fill="#fb0d12"/>
<rect x="313.3" y="443.4" width="2.6" height="2.6" fill="#fb0d12"/>
<rect x="311.1" y="448.3" width="2.6" height="2.6" fill="#fb0d12"/>
<rect x="312.4" y="445.9" width="2.6" height="2.6" fill="#fb0d12"/>
<rect x="312.2" y="447.3" width="2.6" height="2.6" fill="#fb0d12"/>
<rect x="310.5" y="444.6" width="2.6" height="2.6" fill="#fb0d12"/>
<rect x="310.8" y="446.5" width="2.6" height="2.6" fill="#fb0d12"/>
<rect x="310.9" y="444.0" width="2.6" height="2.6" fill="#fb0d12"/>
<rect x="311.1" y="446.1" width="2.6" height="2.6" fill="#fb0d12"/>
<rect x="310.5" y="443.7" width="2.6" height="2.6" fill="#fb0d12"/>
<rect x="311.1" y="446.6" width="2.6" height="2.6" fill="#fb0d12"/>
<rect x="310.9" y="446.8" width="2.6" height="2.6" fill="#fb0d12"/>
<rect x="241.1" y="429.7" width="2.6" height="2.6" fill="#4a9868"/>
<rect x="210.0" y="441.3" width="2.6" height="2.6" fill="#4a9868"/>
<rect x="248.5" y="408.7" width="2.6" height="2.6" fill="#4a9868"/>
<rect x="251.3" y="411.9" width="2.6" height="2.6" fill="#4a9868"/>
<rect x="243.7" y="410.6" width="2.6" height="2.6" fill="#4a9868"/>
<rect x="244.7" y="428.1" width="2.6" height="2.6" fill="#4a9868"/>
<rect x="238.4" y="432.6" width="2.6" height="2.6" fill="#4a9868"/>
<rect x="265.2" y="422.9" width="2.6" height="2.6" fill="#4a9868"/>
<rect x="217.0" y="431.0" width="2.6" height="2.6" fill="#4a9868"/>
<rect x="214.3" y="440.4" width="2.6" height="2.6" fill="#4a9868"/>
<rect x="224.1" y="435.8" width="2.6" height="2.6" fill="#4a9868"/>
<rect x="253.1" y="416.9" width="2.6" height="2.6" fill="#4a9868"/>
<rect x="251.7" y="406.2" width="2.6" height="2.6" fill="#4a9868"/>
<rect x="226.2" y="436.1" width="2.6" height="2.6" fill="#4a9868"/>
<rect x="219.9" y="430.5" width="2.6" height="2.6" fill="#4a9868"/>
<rect x="238.1" y="436.3" width="2.6" height="2.6" fill="#4a9868"/>
<rect x="221.1" y="438.8" width="2.6" height="2.6" fill="#4a9868"/>
<rect x="250.4" y="421.3" width="2.6" height="2.6" fill="#4a9868"/>
<rect x="256.5" y="423.2" width="2.6" height="2.6" fill="#4a9868"/>
<rect x="222.4" y="439.9" width="2.6" height="2.6" fill="#4a9868"/>
<rect x="253.7" y="409.0" width="2.6" height="2.6" fill="#4a9868"/>
<rect x="269.5" y="427.0" width="2.6" height="2.6" fill="#4a9868"/>
<rect x="256.7" y="415.4" width="2.6" height="2.6" fill="#1da24a"/>
<rect x="267.2" y="418.9" width="2.6" height="2.6" fill="#1da24a"/>
<rect x="215.8" y="439.5" width="2.6" height="2.6" fill="#1da24a"/>
<rect x="256.5" y="406.9" width="2.6" height="2.6" fill="#1da24a"/>
<rect x="259.5" y="407.6" width="2.6" height="2.6" fill="#1da24a"/>
<rect x="239.2" y="437.6" width="2.6" height="2.6" fill="#1da24a"/>
<rect x="254.2" y="417.3" width="2.6" height="2.6" fill="#1da24a"/>
<rect x="254.4" y="424.2" width="2.6" height="2.6" fill="#1da24a"/>
<rect x="217.9" y="441.5" width="2.6" height="2.6" fill="#1da24a"/>
<rect x="257.1" y="411.4" width="2.6" height="2.6" fill="#1da24a"/>
<rect x="259.8" y="429.9" width="2.6" height="2.6" fill="#1da24a"/>
<rect x="253.1" y="407.5" width="2.6" height="2.6" fill="#1da24a"/>
<rect x="265.8" y="415.3" width="2.6" height="2.6" fill="#1da24a"/>
<rect x="248.2" y="430.1" width="2.6" height="2.6" fill="#1da24a"/>
<rect x="256.3" y="437.3" width="2.6" height="2.6" fill="#1da24a"/>
<rect x="256.0" y="426.4" width="2.6" height="2.6" fill="#1da24a"/>
<rect x="265.7" y="419.6" width="2.6" height="2.6" fill="#1da24a"/>
<rect x="251.2" y="424.4" width="2.6" height="2.6" fill="#1da24a"/>
<rect x="261.1" y="426.9" width="2.6" height="2.6" fill="#1da24a"/>
<rect x="246.8" y="433.0" width="2.6" height="2.6" fill="#1da24a"/>
<rect x="261.5" y="419.2" width="2.6" height="2.6" fill="#1da24a"/>
<rect x="249.2" y="428.9" width="2.6" height="2.6" fill="#1da24a"/>
<rect x="256.0" y="436.8" width="2.6" height="2.6" fill="#1da24a"/>
<rect x="242.5" y="436.2" width="2.6" height="2.6" fill="#0cab3c"/>
<rect x="258.3" y="426.5" width="2.6" height="2.6" fill="#0cab3c"/>
<rect x="253.6" y="439.8" width="2.6" height="2.6" fill="#0cab3c"/>
<rect x="261.1" y="428.2" width="2.6" height="2.6" fill="#0cab3c"/>
<rect x="252.5" y="428.1" width="2.6" height="2.6" fill="#0cab3c"/>
<rect x="265.1" y="417.9" width="2.6" height="2.6" fill="#0cab3c"/>
<rect x="250.9" y="424.2" width="2.6" height="2.6" fill="#0cab3c"/>
<rect x="262.9" y="420.4" width="2.6" height="2.6" fill="#0cab3c"/>
<rect x="268.8" y="428.7" width="2.6" height="2.6" fill="#0cab3c"/>
<rect x="264.0" y="425.4" width="2.6" height="2.6" fill="#0cab3c"/>
<rect x="257.9" y="437.0" width="2.6" height="2.6" fill="#0cab3c"/>
<rect x="257.6" y="409.6" width="2.6" height="2.6" fill="#0cab3c"/>
<rect x="260.9" y="423.0" width="2.6" height="2.6" fill="#0cab3c"/>
<rect x="259.4" y="425.0" width="2.6" height="2.6" fill="#0cab3c"/>
<rect x="242.9" y="436.9" width="2.6" height="2.6" fill="#0cab3c"/>
<rect x="253.3" y="444.5" width="2.6" height="2.6" fill="#0cab3c"/>
<rect x="255.2" y="449.5" width="2.6" height="2.6" fill="#0cab3c"/>
<rect x="258.0" y="412.8" width="2.6" height="2.6" fill="#0cab3c"/>
<rect x="250.8" y="441.3" width="2.6" height="2.6" fill="#0cab3c"/>
<rect x="261.9" y="423.5" width="2.6" height="2.6" fill="#0cab3c"/>
<rect x="261.8" y="421.3" width="2.6" height="2.6" fill="#0cab3c"/>
<rect x="250.6" y="442.3" width="2.6" height="2.6" fill="#0cab3c"/>
<rect x="251.8" y="427.0" width="2.6" height="2.6" fill="#0cab3c"/>
<rect x="261.0" y="422.1" width="2.6" height="2.6" fill="#0cab3c"/>
<rect x="268.7" y="431.2" width="2.6" height="2.6" fill="#0cab3c"/>
<rect x="236.6" y="442.4" width="2.6" height="2.6" fill="#0cab3c"/>
<rect x="265.2" y="427.9" width="2.6" height="2.6" fill="#0cab3c"/>
<rect x="238.5" y="442.5" width="2.6" height="2.6" fill="#0cab3c"/>
<rect x="253.1" y="434.6" width="2.6" height="2.6" fill="#0cab3c"/>
<rect x="262.0" y="414.0" width="2.6" height="2.6" fill="#0cab3c"/>
<rect x="251.5" y="435.9" width="2.6" height="2.6" fill="#0cab3c"/>
<rect x="250.4" y="438.3" width="2.6" height="2.6" fill="#0cab3c"/>
<rect x="261.0" y="412.2" width="2.6" height="2.6" fill="#0cab3c"/>
<rect x="241.7" y="441.9" width="2.6" height="2.6" fill="#0cab3c"/>
<rect x="247.8" y="433.9" width="2.6" height="2.6" fill="#0cab3c"/>
<rect x="249.5" y="432.4" width="2.6" height="2.6" fill="#0cab3c"/>
<rect x="261.1" y="415.2" width="2.6" height="2.6" fill="#0cab3c"/>
<rect x="245.3" y="439.7" width="2.6" height="2.6" fill="#0cab3c"/>
<rect x="241.7" y="442.2" width="2.6" height="2.6" fill="#0cab3c"/>
<rect x="253.6" y="448.2" width="2.6" height="2.6" fill="#0cab3c"/>
<rect x="255.3" y="449.0" width="2.6" height="2.6" fill="#0cab3c"/>
<rect x="272.0" y="432.6" width="2.6" height="2.6" fill="#0cab3c"/>
<rect x="263.4" y="413.1" width="2.6" height="2.6" fill="#0cab3c"/>
<rect x="250.2" y="426.7" width="2.6" height="2.6" fill="#0cab3c"/>
<rect x="241.8" y="437.7" width="2.6" height="2.6" fill="#0cab3c"/>
<rect x="239.8" y="441.1" width="2.6" height="2.6" fill="#0cab3c"/>
<rect x="253.0" y="445.0" width="2.6" height="2.6" fill="#0cab3c"/>
<rect x="252.0" y="434.4" width="2.6" height="2.6" fill="#0cab3c"/>
<rect x="250.6" y="429.1" width="2.6" height="2.6" fill="#0cab3c"/>
<rect x="218.1" y="443.9" width="2.6" height="2.6" fill="#0cab3c"/>
<rect x="263.1" y="416.1" width="2.6" height="2.6" fill="#0cab3c"/>
<rect x="257.5" y="440.3" width="2.6" height="2.6" fill="#0cab3c"/>
<rect x="260.5" y="413.0" width="2.6" height="2.6" fill="#0cab3c"/>
<rect x="265.5" y="429.4" width="2.6" height="2.6" fill="#0cab3c"/>
<rect x="263.4" y="414.0" width="2.6" height="2.6" fill="#0cab3c"/>
<rect x="238.6" y="442.1" width="2.6" height="2.6" fill="#0cab3c"/>
<rect x="253.1" y="432.0" width="2.6" height="2.6" fill="#0cab3c"/>
<rect x="252.4" y="431.2" width="2.6" height="2.6" fill="#0cab3c"/>
<rect x="264.1" y="428.5" width="2.6" height="2.6" fill="#0cab3c"/>
<rect x="256.5" y="429.1" width="2.6" height="2.6" fill="#0cab3c"/>
<rect x="258.5" y="437.4" width="2.6" height="2.6" fill="#0cab3c"/>
<rect x="256.2" y="441.8" width="2.6" height="2.6" fill="#0cab3c"/>
<rect x="255.5" y="429.8" width="2.6" height="2.6" fill="#0cab3c"/>
<rect x="255.4" y="441.4" width="2.6" height="2.6" fill="#0cab3c"/>
<rect x="242.5" y="438.3" width="2.6" height="2.6" fill="#0cab3c"/>
<rect x="248.8" y="437.1" width="2.6" height="2.6" fill="#0cab3c"/>
<rect x="230.5" y="445.0" width="2.6" height="2.6" fill="#0cab3c"/>
<rect x="254.2" y="442.3" width="2.6" height="2.6" fill="#0cab3c"/>
<rect x="268.1" y="431.6" width="2.6" height="2.6" fill="#0cab3c"/>
<rect x="247.1" y="439.9" width="2.6" height="2.6" fill="#0cab3c"/>
<rect x="252.5" y="442.8" width="2.6" height="2.6" fill="#0cab3c"/>
<rect x="266.7" y="429.1" width="2.6" height="2.6" fill="#0cab3c"/>
<rect x="245.2" y="442.1" width="2.6" height="2.6" fill="#0cab3c"/>
<rect x="241.0" y="440.7" width="2.6" height="2.6" fill="#0cab3c"/>
<rect x="210.3" y="446.7" width="2.6" height="2.6" fill="#0cab3c"/>
<rect x="247.3" y="435.6" width="2.6" height="2.6" fill="#0cab3c"/>
<rect x="251.0" y="433.9" width="2.6" height="2.6" fill="#0cab3c"/>
<rect x="259.5" y="433.6" width="2.6" height="2.6" fill="#0cab3c"/>
<rect x="233.7" y="444.4" width="2.6" height="2.6" fill="#0cab3c"/>
<rect x="246.6" y="438.1" width="2.6" height="2.6" fill="#0cab3c"/>
<rect x="248.3" y="442.8" width="2.6" height="2.6" fill="#0cab3c"/>
<rect x="233.8" y="444.6" width="2.6" height="2.6" fill="#0cab3c"/>
<rect x="271.1" y="433.8" width="2.6" height="2.6" fill="#0cab3c"/>
<rect x="215.4" y="443.7" width="2.6" height="2.6" fill="#0cab3c"/>
<rect x="248.2" y="436.9" width="2.6" height="2.6" fill="#0cab3c"/>
<rect x="244.7" y="438.3" width="2.6" height="2.6" fill="#0cab3c"/>
<rect x="248.2" y="437.9" width="2.6" height="2.6" fill="#0cab3c"/>
<rect x="273.7" y="434.9" width="2.6" height="2.6" fill="#0cab3c"/>
<rect x="256.4" y="433.3" width="2.6" height="2.6" fill="#0cab3c"/>
<rect x="224.4" y="443.7" width="2.6" height="2.6" fill="#0cab3c"/>
<rect x="245.4" y="437.6" width="2.6" height="2.6" fill="#0cab3c"/>
<rect x="256.4" y="430.3" width="2.6" height="2.6" fill="#0cab3c"/>
<rect x="257.7" y="431.2" width="2.6" height="2.6" fill="#0cab3c"/>
<rect x="259.5" y="449.3" width="2.6" height="2.6" fill="#0cab3c"/>
<rect x="256.8" y="433.1" width="2.6" height="2.6" fill="#0cab3c"/>
<rect x="209.7" y="448.6" width="2.6" height="2.6" fill="#0cab3c"/>
<rect x="254.6" y="447.8" width="2.6" height="2.6" fill="#0cab3c"/>
<rect x="221.5" y="444.0" width="2.6" height="2.6" fill="#0cab3c"/>
<rect x="247.4" y="442.3" width="2.6" height="2.6" fill="#0cab3c"/>
<rect x="225.9" y="444.3" width="2.6" height="2.6" fill="#0cab3c"/>
<rect x="253.5" y="442.1" width="2.6" height="2.6" fill="#0cab3c"/>
<rect x="256.4" y="430.7" width="2.6" height="2.6" fill="#0cab3c"/>
<rect x="259.7" y="434.0" width="2.6" height="2.6" fill="#0cab3c"/>
<rect x="249.8" y="436.2" width="2.6" height="2.6" fill="#0cab3c"/>
<rect x="260.0" y="442.2" width="2.6" height="2.6" fill="#0cab3c"/>
<rect x="254.7" y="432.4" width="2.6" height="2.6" fill="#0cab3c"/>
<rect x="255.6" y="447.7" width="2.6" height="2.6" fill="#0cab3c"/>
<rect x="265.5" y="432.3" width="2.6" height="2.6" fill="#0cab3c"/>
<rect x="236.4" y="445.1" width="2.6" height="2.6" fill="#0cab3c"/>
<rect x="266.8" y="432.8" width="2.6" height="2.6" fill="#0cab3c"/>
<rect x="209.9" y="448.4" width="2.6" height="2.6" fill="#0cab3c"/>
<rect x="265.1" y="431.6" width="2.6" height="2.6" fill="#0cab3c"/>
<rect x="245.2" y="443.4" width="2.6" height="2.6" fill="#0cab3c"/>
<rect x="259.6" y="449.0" width="2.6" height="2.6" fill="#0cab3c"/>
<rect x="254.4" y="432.3" width="2.6" height="2.6" fill="#0cab3c"/>
<rect x="256.0" y="430.7" width="2.6" height="2.6" fill="#0cab3c"/>
<rect x="210.7" y="449.1" width="2.6" height="2.6" fill="#0cab3c"/>
<rect x="256.4" y="445.3" width="2.6" height="2.6" fill="#0cab3c"/>
<rect x="263.6" y="432.6" width="2.6" height="2.6" fill="#0cab3c"/>
<rect x="214.3" y="444.4" width="2.6" height="2.6" fill="#0cab3c"/>
<rect x="234.7" y="444.9" width="2.6" height="2.6" fill="#0cab3c"/>
<rect x="264.6" y="430.7" width="2.6" height="2.6" fill="#0cab3c"/>
<rect x="251.6" y="448.5" width="2.6" height="2.6" fill="#0cab3c"/>
<rect x="245.0" y="443.9" width="2.6" height="2.6" fill="#0cab3c"/>
<rect x="241.7" y="443.2" width="2.6" height="2.6" fill="#0cab3c"/>
<rect x="259.0" y="442.1" width="2.6" height="2.6" fill="#0cab3c"/>
<rect x="274.2" y="437.2" width="2.6" height="2.6" fill="#0cab3c"/>
<rect x="260.4" y="437.0" width="2.6" height="2.6" fill="#0cab3c"/>
<rect x="251.3" y="447.4" width="2.6" height="2.6" fill="#0cab3c"/>
<rect x="271.1" y="434.6" width="2.6" height="2.6" fill="#0cab3c"/>
<rect x="262.9" y="430.8" width="2.6" height="2.6" fill="#0cab3c"/>
<rect x="273.2" y="435.5" width="2.6" height="2.6" fill="#0cab3c"/>
<rect x="225.3" y="445.2" width="2.6" height="2.6" fill="#0cab3c"/>
<rect x="262.8" y="434.3" width="2.6" height="2.6" fill="#0cab3c"/>
<rect x="257.1" y="444.6" width="2.6" height="2.6" fill="#0cab3c"/>
<rect x="266.5" y="434.5" width="2.6" height="2.6" fill="#0cab3c"/>
<rect x="265.3" y="436.3" width="2.6" height="2.6" fill="#0cab3c"/>
<rect x="269.4" y="435.7" width="2.6" height="2.6" fill="#0cab3c"/>
<rect x="264.5" y="433.0" width="2.6" height="2.6" fill="#0cab3c"/>
<rect x="266.0" y="436.3" width="2.6" height="2.6" fill="#0cab3c"/>
<rect x="218.3" y="449.6" width="2.6" height="2.6" fill="#0cab3c"/>
<rect x="238.8" y="444.3" width="2.6" height="2.6" fill="#0cab3c"/>
<rect x="269.0" y="433.8" width="2.6" height="2.6" fill="#0cab3c"/>
<rect x="217.9" y="449.5" width="2.6" height="2.6" fill="#0cab3c"/>
<rect x="256.0" y="445.3" width="2.6" height="2.6" fill="#0cab3c"/>
<rect x="264.8" y="432.5" width="2.6" height="2.6" fill="#0cab3c"/>
<rect x="261.9" y="433.6" width="2.6" height="2.6" fill="#0cab3c"/>
<rect x="213.2" y="445.1" width="2.6" height="2.6" fill="#0cab3c"/>
<rect x="262.8" y="434.0" width="2.6" height="2.6" fill="#0cab3c"/>
<rect x="274.8" y="438.7" width="2.6" height="2.6" fill="#0cab3c"/>
<rect x="257.2" y="443.5" width="2.6" height="2.6" fill="#0cab3c"/>
<rect x="274.6" y="438.4" width="2.6" height="2.6" fill="#0cab3c"/>
<rect x="261.1" y="440.8" width="2.6" height="2.6" fill="#0cab3c"/>
<rect x="268.2" y="435.4" width="2.6" height="2.6" fill="#0cab3c"/>
<rect x="262.2" y="433.9" width="2.6" height="2.6" fill="#0cab3c"/>
<rect x="262.4" y="433.9" width="2.6" height="2.6" fill="#0cab3c"/>
<rect x="260.0" y="440.0" width="2.6" height="2.6" fill="#0cab3c"/>
<rect x="215.4" y="444.9" width="2.6" height="2.6" fill="#0cab3c"/>
<rect x="260.5" y="449.2" width="2.6" height="2.6" fill="#0cab3c"/>
<rect x="274.6" y="437.9" width="2.6" height="2.6" fill="#0cab3c"/>
<rect x="273.9" y="437.7" width="2.6" height="2.6" fill="#0cab3c"/>
<rect x="259.6" y="443.8" width="2.6" height="2.6" fill="#0cab3c"/>
<rect x="259.2" y="447.8" width="2.6" height="2.6" fill="#0cab3c"/>
<rect x="240.9" y="445.3" width="2.6" height="2.6" fill="#0cab3c"/>
<rect x="268.6" y="436.0" width="2.6" height="2.6" fill="#0cab3c"/>
<rect x="248.9" y="445.1" width="2.6" height="2.6" fill="#0cab3c"/>
<rect x="216.7" y="449.4" width="2.6" height="2.6" fill="#0cab3c"/>
<rect x="262.0" y="435.6" width="2.6" height="2.6" fill="#0cab3c"/>
<rect x="258.8" y="448.3" width="2.6" height="2.6" fill="#0cab3c"/>
<rect x="218.3" y="449.4" width="2.6" height="2.6" fill="#0cab3c"/>
<rect x="260.7" y="439.0" width="2.6" height="2.6" fill="#0cab3c"/>
<rect x="263.0" y="449.4" width="2.6" height="2.6" fill="#0cab3c"/>
<rect x="258.1" y="448.7" width="2.6" height="2.6" fill="#0cab3c"/>
<rect x="257.5" y="444.7" width="2.6" height="2.6" fill="#0cab3c"/>
<rect x="211.9" y="449.3" width="2.6" height="2.6" fill="#0cab3c"/>
<rect x="215.2" y="445.0" width="2.6" height="2.6" fill="#0cab3c"/>
<rect x="271.5" y="435.1" width="2.6" height="2.6" fill="#0cab3c"/>
<rect x="260.2" y="443.0" width="2.6" height="2.6" fill="#0cab3c"/>
<rect x="218.6" y="448.7" width="2.6" height="2.6" fill="#0cab3c"/>
<rect x="264.1" y="449.5" width="2.6" height="2.6" fill="#0cab3c"/>
<rect x="261.6" y="440.3" width="2.6" height="2.6" fill="#0cab3c"/>
<rect x="262.2" y="436.8" width="2.6" height="2.6" fill="#0cab3c"/>
<rect x="217.6" y="448.2" width="2.6" height="2.6" fill="#0cab3c"/>
<rect x="211.4" y="448.7" width="2.6" height="2.6" fill="#0cab3c"/>
<rect x="262.0" y="436.4" width="2.6" height="2.6" fill="#0cab3c"/>
<rect x="220.0" y="449.4" width="2.6" height="2.6" fill="#0cab3c"/>
<rect x="272.6" y="438.1" width="2.6" height="2.6" fill="#0cab3c"/>
<rect x="257.2" y="445.9" width="2.6" height="2.6" fill="#0cab3c"/>
<rect x="259.5" y="448.2" width="2.6" height="2.6" fill="#0cab3c"/>
<rect x="212.2" y="449.3" width="2.6" height="2.6" fill="#0cab3c"/>
<rect x="262.9" y="448.9" width="2.6" height="2.6" fill="#0cab3c"/>
<rect x="216.5" y="445.4" width="2.6" height="2.6" fill="#0cab3c"/>
<rect x="225.0" y="445.4" width="2.6" height="2.6" fill="#0cab3c"/>
<rect x="275.8" y="439.6" width="2.6" height="2.6" fill="#0cab3c"/>
<rect x="222.2" y="449.4" width="2.6" height="2.6" fill="#0cab3c"/>
<rect x="247.0" y="444.7" width="2.6" height="2.6" fill="#0cab3c"/>
<rect x="228.3" y="446.4" width="2.6" height="2.6" fill="#0cab3c"/>
<rect x="270.7" y="437.9" width="2.6" height="2.6" fill="#0cab3c"/>
<rect x="269.3" y="437.3" width="2.6" height="2.6" fill="#0cab3c"/>
<rect x="264.5" y="449.6" width="2.6" height="2.6" fill="#0cab3c"/>
<rect x="264.7" y="436.3" width="2.6" height="2.6" fill="#0cab3c"/>
<rect x="266.3" y="437.5" width="2.6" height="2.6" fill="#0cab3c"/>
<rect x="262.7" y="448.2" width="2.6" height="2.6" fill="#0cab3c"/>
<rect x="262.0" y="436.4" width="2.6" height="2.6" fill="#0cab3c"/>
<rect x="267.6" y="436.6" width="2.6" height="2.6" fill="#0cab3c"/>
<rect x="262.1" y="444.7" width="2.6" height="2.6" fill="#0cab3c"/>
<rect x="272.1" y="437.9" width="2.6" height="2.6" fill="#0cab3c"/>
<rect x="216.8" y="448.2" width="2.6" height="2.6" fill="#0cab3c"/>
<rect x="270.4" y="437.8" width="2.6" height="2.6" fill="#0cab3c"/>
<rect x="227.3" y="449.4" width="2.6" height="2.6" fill="#0cab3c"/>
<rect x="261.6" y="441.9" width="2.6" height="2.6" fill="#0cab3c"/>
<rect x="212.6" y="449.1" width="2.6" height="2.6" fill="#0cab3c"/>
<rect x="226.3" y="449.6" width="2.6" height="2.6" fill="#0cab3c"/>
<rect x="227.0" y="449.2" width="2.6" height="2.6" fill="#0cab3c"/>
<rect x="270.6" y="437.0" width="2.6" height="2.6" fill="#0cab3c"/>
<rect x="257.5" y="446.5" width="2.6" height="2.6" fill="#0cab3c"/>
<rect x="269.7" y="436.5" width="2.6" height="2.6" fill="#0cab3c"/>
<rect x="260.4" y="448.3" width="2.6" height="2.6" fill="#0cab3c"/>
<rect x="271.5" y="438.2" width="2.6" height="2.6" fill="#0cab3c"/>
<rect x="239.5" y="446.0" width="2.6" height="2.6" fill="#0cab3c"/>
<rect x="245.7" y="444.6" width="2.6" height="2.6" fill="#0cab3c"/>
<rect x="216.5" y="445.7" width="2.6" height="2.6" fill="#0cab3c"/>
<rect x="258.2" y="445.9" width="2.6" height="2.6" fill="#0cab3c"/>
<rect x="222.9" y="445.0" width="2.6" height="2.6" fill="#0cab3c"/>
<rect x="227.0" y="448.4" width="2.6" height="2.6" fill="#0cab3c"/>
<rect x="231.9" y="446.3" width="2.6" height="2.6" fill="#0cab3c"/>
<rect x="243.3" y="444.4" width="2.6" height="2.6" fill="#0cab3c"/>
<rect x="219.3" y="447.6" width="2.6" height="2.6" fill="#0cab3c"/>
<rect x="260.4" y="445.8" width="2.6" height="2.6" fill="#0cab3c"/>
<rect x="262.3" y="445.1" width="2.6" height="2.6" fill="#0cab3c"/>
<rect x="261.9" y="444.7" width="2.6" height="2.6" fill="#0cab3c"/>
<rect x="226.0" y="448.9" width="2.6" height="2.6" fill="#0cab3c"/>
<rect x="233.1" y="446.1" width="2.6" height="2.6" fill="#0cab3c"/>
<rect x="226.9" y="448.7" width="2.6" height="2.6" fill="#0cab3c"/>
<rect x="212.2" y="447.3" width="2.6" height="2.6" fill="#0cab3c"/>
<rect x="258.9" y="445.6" width="2.6" height="2.6" fill="#0cab3c"/>
<rect x="273.3" y="438.3" width="2.6" height="2.6" fill="#0cab3c"/>
<rect x="236.5" y="449.4" width="2.6" height="2.6" fill="#0cab3c"/>
<rect x="222.7" y="449.2" width="2.6" height="2.6" fill="#0cab3c"/>
<rect x="223.3" y="445.7" width="2.6" height="2.6" fill="#0cab3c"/>
<rect x="226.4" y="448.5" width="2.6" height="2.6" fill="#0cab3c"/>
<rect x="216.7" y="446.8" width="2.6" height="2.6" fill="#0cab3c"/>
<rect x="270.8" y="439.2" width="2.6" height="2.6" fill="#0cab3c"/>
<rect x="265.7" y="438.0" width="2.6" height="2.6" fill="#0cab3c"/>
<rect x="263.8" y="437.8" width="2.6" height="2.6" fill="#0cab3c"/>
<rect x="250.3" y="448.4" width="2.6" height="2.6" fill="#0cab3c"/>
<rect x="214.1" y="448.9" width="2.6" height="2.6" fill="#0cab3c"/>
<rect x="260.0" y="445.5" width="2.6" height="2.6" fill="#0cab3c"/>
<rect x="246.7" y="445.1" width="2.6" height="2.6" fill="#0cab3c"/>
<rect x="221.5" y="448.6" width="2.6" height="2.6" fill="#0cab3c"/>
<rect x="227.2" y="447.4" width="2.6" height="2.6" fill="#0cab3c"/>
<rect x="236.3" y="447.2" width="2.6" height="2.6" fill="#0cab3c"/>
<rect x="263.1" y="440.0" width="2.6" height="2.6" fill="#0cab3c"/>
<rect x="214.4" y="449.3" width="2.6" height="2.6" fill="#0cab3c"/>
<rect x="220.8" y="446.8" width="2.6" height="2.6" fill="#0cab3c"/>
<rect x="236.4" y="448.0" width="2.6" height="2.6" fill="#0cab3c"/>
<rect x="212.5" y="448.0" width="2.6" height="2.6" fill="#0cab3c"/>
<rect x="239.3" y="449.2" width="2.6" height="2.6" fill="#0cab3c"/>
<rect x="263.5" y="439.7" width="2.6" height="2.6" fill="#0cab3c"/>
<rect x="230.8" y="448.8" width="2.6" height="2.6" fill="#0cab3c"/>
<rect x="264.1" y="448.6" width="2.6" height="2.6" fill="#0cab3c"/>
<rect x="228.8" y="448.8" width="2.6" height="2.6" fill="#0cab3c"/>
<rect x="213.1" y="448.1" width="2.6" height="2.6" fill="#0cab3c"/>
<rect x="214.1" y="446.2" width="2.6" height="2.6" fill="#0cab3c"/>
<rect x="229.7" y="449.0" width="2.6" height="2.6" fill="#0cab3c"/>
<rect x="258.0" y="447.6" width="2.6" height="2.6" fill="#0cab3c"/>
<rect x="221.1" y="448.2" width="2.6" height="2.6" fill="#0cab3c"/>
<rect x="229.0" y="449.1" width="2.6" height="2.6" fill="#0cab3c"/>
<rect x="215.9" y="448.5" width="2.6" height="2.6" fill="#0cab3c"/>
<rect x="262.8" y="439.0" width="2.6" height="2.6" fill="#0cab3c"/>
<rect x="229.4" y="449.2" width="2.6" height="2.6" fill="#0cab3c"/>
<rect x="269.7" y="439.4" width="2.6" height="2.6" fill="#0cab3c"/>
<rect x="230.7" y="448.4" width="2.6" height="2.6" fill="#0cab3c"/>
<rect x="235.8" y="448.9" width="2.6" height="2.6" fill="#0cab3c"/>
<rect x="222.0" y="446.2" width="2.6" height="2.6" fill="#0cab3c"/>
<rect x="275.8" y="440.8" width="2.6" height="2.6" fill="#0cab3c"/>
<rect x="216.6" y="448.3" width="2.6" height="2.6" fill="#0cab3c"/>
<rect x="226.0" y="448.6" width="2.6" height="2.6" fill="#0cab3c"/>
<rect x="263.7" y="445.0" width="2.6" height="2.6" fill="#0cab3c"/>
<rect x="225.5" y="449.0" width="2.6" height="2.6" fill="#0cab3c"/>
<rect x="221.1" y="448.7" width="2.6" height="2.6" fill="#0cab3c"/>
<rect x="224.4" y="449.7" width="2.6" height="2.6" fill="#0cab3c"/>
<rect x="266.5" y="439.6" width="2.6" height="2.6" fill="#0cab3c"/>
<rect x="235.8" y="448.8" width="2.6" height="2.6" fill="#0cab3c"/>
<rect x="213.6" y="447.6" width="2.6" height="2.6" fill="#0cab3c"/>
<rect x="241.0" y="445.3" width="2.6" height="2.6" fill="#0cab3c"/>
<rect x="268.4" y="440.3" width="2.6" height="2.6" fill="#0cab3c"/>
<rect x="267.5" y="441.0" width="2.6" height="2.6" fill="#0cab3c"/>
<rect x="263.1" y="437.8" width="2.6" height="2.6" fill="#0cab3c"/>
<rect x="232.4" y="449.6" width="2.6" height="2.6" fill="#0cab3c"/>
<rect x="262.9" y="439.5" width="2.6" height="2.6" fill="#0cab3c"/>
<rect x="265.1" y="438.4" width="2.6" height="2.6" fill="#0cab3c"/>
<rect x="225.2" y="446.2" width="2.6" height="2.6" fill="#0cab3c"/>
<rect x="237.8" y="449.4" width="2.6" height="2.6" fill="#0cab3c"/>
<rect x="262.6" y="448.0" width="2.6" height="2.6" fill="#0cab3c"/>
<rect x="262.7" y="438.5" width="2.6" height="2.6" fill="#0cab3c"/>
<rect x="264.7" y="437.9" width="2.6" height="2.6" fill="#0cab3c"/>
<rect x="222.0" y="446.3" width="2.6" height="2.6" fill="#0cab3c"/>
<rect x="239.7" y="448.5" width="2.6" height="2.6" fill="#0cab3c"/>
<rect x="215.3" y="448.5" width="2.6" height="2.6" fill="#0cab3c"/>
<rect x="222.4" y="448.8" width="2.6" height="2.6" fill="#0cab3c"/>
<rect x="264.0" y="448.3" width="2.6" height="2.6" fill="#0cab3c"/>
<rect x="221.6" y="446.7" width="2.6" height="2.6" fill="#0cab3c"/>
<rect x="232.0" y="449.6" width="2.6" height="2.6" fill="#0cab3c"/>
<rect x="263.9" y="440.3" width="2.6" height="2.6" fill="#0cab3c"/>
<rect x="264.2" y="444.0" width="2.6" height="2.6" fill="#0cab3c"/>
<rect x="262.7" y="445.7" width="2.6" height="2.6" fill="#0cab3c"/>
<rect x="238.6" y="448.5" width="2.6" height="2.6" fill="#0cab3c"/>
<rect x="222.2" y="447.1" width="2.6" height="2.6" fill="#0cab3c"/>
<rect x="262.4" y="447.5" width="2.6" height="2.6" fill="#0cab3c"/>
<rect x="238.7" y="448.8" width="2.6" height="2.6" fill="#0cab3c"/>
<rect x="235.3" y="448.8" width="2.6" height="2.6" fill="#0cab3c"/>
<rect x="238.6" y="448.7" width="2.6" height="2.6" fill="#0cab3c"/>
<rect x="241.6" y="445.6" width="2.6" height="2.6" fill="#0cab3c"/>
<rect x="243.6" y="445.3" width="2.6" height="2.6" fill="#0cab3c"/>
<rect x="267.2" y="441.1" width="2.6" height="2.6" fill="#0cab3c"/>
<rect x="225.9" y="448.2" width="2.6" height="2.6" fill="#0cab3c"/>
<rect x="224.1" y="446.2" width="2.6" height="2.6" fill="#0cab3c"/>
<rect x="264.0" y="440.6" width="2.6" height="2.6" fill="#0cab3c"/>
<rect x="241.1" y="445.6" width="2.6" height="2.6" fill="#0cab3c"/>
<rect x="231.1" y="448.1" width="2.6" height="2.6" fill="#0cab3c"/>
<rect x="226.2" y="448.2" width="2.6" height="2.6" fill="#0cab3c"/>
<rect x="259.8" y="446.4" width="2.6" height="2.6" fill="#0cab3c"/>
<rect x="222.7" y="447.5" width="2.6" height="2.6" fill="#0cab3c"/>
<rect x="231.0" y="448.2" width="2.6" height="2.6" fill="#0cab3c"/>
<rect x="231.6" y="448.1" width="2.6" height="2.6" fill="#0cab3c"/>
<rect x="267.6" y="438.5" width="2.6" height="2.6" fill="#0cab3c"/>
<rect x="249.6" y="447.7" width="2.6" height="2.6" fill="#0cab3c"/>
<rect x="213.9" y="446.7" width="2.6" height="2.6" fill="#0cab3c"/>
<rect x="265.3" y="441.4" width="2.6" height="2.6" fill="#0cab3c"/>
<rect x="249.2" y="449.6" width="2.6" height="2.6" fill="#0cab3c"/>
<rect x="235.1" y="449.6" width="2.6" height="2.6" fill="#0cab3c"/>
<rect x="234.7" y="449.6" width="2.6" height="2.6" fill="#0cab3c"/>
<rect x="231.5" y="447.2" width="2.6" height="2.6" fill="#0cab3c"/>
<rect x="264.4" y="441.8" width="2.6" height="2.6" fill="#0cab3c"/>
<rect x="222.4" y="447.1" width="2.6" height="2.6" fill="#0cab3c"/>
<rect x="267.9" y="449.2" width="2.6" height="2.6" fill="#0cab3c"/>
<rect x="236.9" y="448.6" width="2.6" height="2.6" fill="#0cab3c"/>
<rect x="268.7" y="439.4" width="2.6" height="2.6" fill="#0cab3c"/>
<rect x="232.6" y="449.5" width="2.6" height="2.6" fill="#0cab3c"/>
<rect x="237.0" y="448.8" width="2.6" height="2.6" fill="#0cab3c"/>
<rect x="266.5" y="449.2" width="2.6" height="2.6" fill="#0cab3c"/>
<rect x="264.4" y="442.9" width="2.6" height="2.6" fill="#0cab3c"/>
<rect x="274.0" y="439.7" width="2.6" height="2.6" fill="#0cab3c"/>
<rect x="235.1" y="449.0" width="2.6" height="2.6" fill="#0cab3c"/>
<rect x="265.7" y="440.8" width="2.6" height="2.6" fill="#0cab3c"/>
<rect x="239.6" y="446.9" width="2.6" height="2.6" fill="#0cab3c"/>
<rect x="223.4" y="449.1" width="2.6" height="2.6" fill="#0cab3c"/>
<rect x="242.0" y="449.7" width="2.6" height="2.6" fill="#0cab3c"/>
<rect x="274.5" y="440.8" width="2.6" height="2.6" fill="#0cab3c"/>
<rect x="215.6" y="448.2" width="2.6" height="2.6" fill="#0cab3c"/>
<rect x="267.4" y="441.5" width="2.6" height="2.6" fill="#0cab3c"/>
<rect x="213.9" y="446.9" width="2.6" height="2.6" fill="#0cab3c"/>
<rect x="214.6" y="447.2" width="2.6" height="2.6" fill="#0cab3c"/>
<rect x="241.5" y="445.7" width="2.6" height="2.6" fill="#0cab3c"/>
<rect x="232.3" y="447.0" width="2.6" height="2.6" fill="#0cab3c"/>
<rect x="266.3" y="441.1" width="2.6" height="2.6" fill="#0cab3c"/>
<rect x="249.6" y="447.4" width="2.6" height="2.6" fill="#0cab3c"/>
<rect x="248.2" y="449.7" width="2.6" height="2.6" fill="#0cab3c"/>
<rect x="268.9" y="449.5" width="2.6" height="2.6" fill="#0cab3c"/>
<rect x="266.3" y="449.0" width="2.6" height="2.6" fill="#0cab3c"/>
<rect x="241.2" y="449.2" width="2.6" height="2.6" fill="#0cab3c"/>
<rect x="266.0" y="442.3" width="2.6" height="2.6" fill="#0cab3c"/>
<rect x="239.7" y="447.6" width="2.6" height="2.6" fill="#0cab3c"/>
<rect x="235.1" y="447.9" width="2.6" height="2.6" fill="#0cab3c"/>
<rect x="239.8" y="447.3" width="2.6" height="2.6" fill="#0cab3c"/>
<rect x="223.1" y="448.7" width="2.6" height="2.6" fill="#0cab3c"/>
<rect x="248.3" y="448.9" width="2.6" height="2.6" fill="#0cab3c"/>
<rect x="214.2" y="447.5" width="2.6" height="2.6" fill="#0cab3c"/>
<rect x="222.9" y="447.2" width="2.6" height="2.6" fill="#0cab3c"/>
<rect x="232.5" y="448.3" width="2.6" height="2.6" fill="#0cab3c"/>
<rect x="248.6" y="446.6" width="2.6" height="2.6" fill="#0cab3c"/>
<rect x="240.9" y="448.8" width="2.6" height="2.6" fill="#0cab3c"/>
<rect x="276.5" y="442.2" width="2.6" height="2.6" fill="#0cab3c"/>
<rect x="268.8" y="441.1" width="2.6" height="2.6" fill="#0cab3c"/>
<rect x="232.4" y="448.9" width="2.6" height="2.6" fill="#0cab3c"/>
<rect x="269.7" y="441.1" width="2.6" height="2.6" fill="#0cab3c"/>
<rect x="249.4" y="448.1" width="2.6" height="2.6" fill="#0cab3c"/>
<rect x="242.6" y="449.5" width="2.6" height="2.6" fill="#0cab3c"/>
<rect x="232.4" y="448.7" width="2.6" height="2.6" fill="#0cab3c"/>
<rect x="233.7" y="449.4" width="2.6" height="2.6" fill="#0cab3c"/>
<rect x="265.7" y="439.4" width="2.6" height="2.6" fill="#0cab3c"/>
<rect x="233.2" y="449.0" width="2.6" height="2.6" fill="#0cab3c"/>
<rect x="265.3" y="448.8" width="2.6" height="2.6" fill="#0cab3c"/>
<rect x="249.1" y="448.8" width="2.6" height="2.6" fill="#0cab3c"/>
<rect x="233.1" y="448.5" width="2.6" height="2.6" fill="#0cab3c"/>
<rect x="265.1" y="444.1" width="2.6" height="2.6" fill="#0cab3c"/>
<rect x="247.5" y="449.7" width="2.6" height="2.6" fill="#0cab3c"/>
<rect x="266.3" y="442.8" width="2.6" height="2.6" fill="#0cab3c"/>
<rect x="265.9" y="444.7" width="2.6" height="2.6" fill="#0cab3c"/>
<rect x="234.8" y="447.3" width="2.6" height="2.6" fill="#0cab3c"/>
<rect x="270.5" y="440.8" width="2.6" height="2.6" fill="#0cab3c"/>
<rect x="247.8" y="448.2" width="2.6" height="2.6" fill="#0cab3c"/>
<rect x="265.5" y="448.6" width="2.6" height="2.6" fill="#0cab3c"/>
<rect x="264.9" y="444.9" width="2.6" height="2.6" fill="#0cab3c"/>
<rect x="225.1" y="447.1" width="2.6" height="2.6" fill="#0cab3c"/>
<rect x="247.7" y="448.3" width="2.6" height="2.6" fill="#0cab3c"/>
<rect x="240.9" y="448.6" width="2.6" height="2.6" fill="#0cab3c"/>
<rect x="249.2" y="448.2" width="2.6" height="2.6" fill="#0cab3c"/>
<rect x="248.7" y="447.8" width="2.6" height="2.6" fill="#0cab3c"/>
<rect x="274.8" y="441.3" width="2.6" height="2.6" fill="#0cab3c"/>
<rect x="234.4" y="447.0" width="2.6" height="2.6" fill="#0cab3c"/>
<rect x="243.0" y="448.9" width="2.6" height="2.6" fill="#0cab3c"/>
<rect x="240.0" y="448.3" width="2.6" height="2.6" fill="#0cab3c"/>
<rect x="264.8" y="444.4" width="2.6" height="2.6" fill="#0cab3c"/>
<rect x="233.9" y="449.2" width="2.6" height="2.6" fill="#0cab3c"/>
<rect x="246.9" y="449.5" width="2.6" height="2.6" fill="#0cab3c"/>
<rect x="242.8" y="448.7" width="2.6" height="2.6" fill="#0cab3c"/>
<rect x="242.9" y="448.6" width="2.6" height="2.6" fill="#0cab3c"/>
<rect x="263.8" y="447.3" width="2.6" height="2.6" fill="#0cab3c"/>
<rect x="265.4" y="445.1" width="2.6" height="2.6" fill="#0cab3c"/>
<rect x="223.6" y="448.0" width="2.6" height="2.6" fill="#0cab3c"/>
<rect x="265.7" y="443.9" width="2.6" height="2.6" fill="#0cab3c"/>
<rect x="244.3" y="449.7" width="2.6" height="2.6" fill="#0cab3c"/>
<rect x="266.6" y="448.3" width="2.6" height="2.6" fill="#0cab3c"/>
<rect x="270.5" y="441.6" width="2.6" height="2.6" fill="#0cab3c"/>
<rect x="265.6" y="448.5" width="2.6" height="2.6" fill="#0cab3c"/>
<rect x="268.8" y="448.6" width="2.6" height="2.6" fill="#0cab3c"/>
<rect x="266.5" y="444.2" width="2.6" height="2.6" fill="#0cab3c"/>
<rect x="244.4" y="447.5" width="2.6" height="2.6" fill="#0cab3c"/>
<rect x="246.3" y="449.4" width="2.6" height="2.6" fill="#0cab3c"/>
<rect x="241.0" y="448.2" width="2.6" height="2.6" fill="#0cab3c"/>
<rect x="267.4" y="447.5" width="2.6" height="2.6" fill="#0cab3c"/>
<rect x="247.9" y="447.4" width="2.6" height="2.6" fill="#0cab3c"/>
<rect x="267.4" y="447.9" width="2.6" height="2.6" fill="#0cab3c"/>
<rect x="245.0" y="446.4" width="2.6" height="2.6" fill="#0cab3c"/>
<rect x="244.3" y="449.5" width="2.6" height="2.6" fill="#0cab3c"/>
<rect x="243.5" y="448.4" width="2.6" height="2.6" fill="#0cab3c"/>
<rect x="274.2" y="441.3" width="2.6" height="2.6" fill="#0cab3c"/>
<rect x="268.6" y="448.6" width="2.6" height="2.6" fill="#0cab3c"/>
<rect x="247.4" y="448.8" width="2.6" height="2.6" fill="#0cab3c"/>
<rect x="247.3" y="449.5" width="2.6" height="2.6" fill="#0cab3c"/>
<rect x="243.5" y="448.2" width="2.6" height="2.6" fill="#0cab3c"/>
<rect x="244.7" y="449.4" width="2.6" height="2.6" fill="#0cab3c"/>
<rect x="266.3" y="443.5" width="2.6" height="2.6" fill="#0cab3c"/>
<rect x="270.1" y="449.5" width="2.6" height="2.6" fill="#0cab3c"/>
<rect x="241.5" y="448.7" width="2.6" height="2.6" fill="#0cab3c"/>
<rect x="270.3" y="441.6" width="2.6" height="2.6" fill="#0cab3c"/>
<rect x="267.7" y="448.1" width="2.6" height="2.6" fill="#0cab3c"/>
<rect x="247.2" y="449.1" width="2.6" height="2.6" fill="#0cab3c"/>
<rect x="266.9" y="447.8" width="2.6" height="2.6" fill="#0cab3c"/>
<rect x="266.0" y="445.7" width="2.6" height="2.6" fill="#0cab3c"/>
<rect x="275.7" y="442.1" width="2.6" height="2.6" fill="#0cab3c"/>
<rect x="247.7" y="447.7" width="2.6" height="2.6" fill="#0cab3c"/>
<rect x="244.6" y="447.6" width="2.6" height="2.6" fill="#0cab3c"/>
<rect x="270.1" y="449.2" width="2.6" height="2.6" fill="#0cab3c"/>
<rect x="266.8" y="447.0" width="2.6" height="2.6" fill="#0cab3c"/>
<rect x="244.4" y="448.5" width="2.6" height="2.6" fill="#0cab3c"/>
<rect x="241.5" y="448.4" width="2.6" height="2.6" fill="#0cab3c"/>
<rect x="269.2" y="442.4" width="2.6" height="2.6" fill="#0cab3c"/>
<rect x="246.6" y="446.5" width="2.6" height="2.6" fill="#0cab3c"/>
<rect x="267.6" y="443.2" width="2.6" height="2.6" fill="#0cab3c"/>
<rect x="264.9" y="447.3" width="2.6" height="2.6" fill="#0cab3c"/>
<rect x="265.5" y="446.4" width="2.6" height="2.6" fill="#0cab3c"/>
<rect x="264.6" y="445.8" width="2.6" height="2.6" fill="#0cab3c"/>
<rect x="243.9" y="446.6" width="2.6" height="2.6" fill="#0cab3c"/>
<rect x="242.0" y="448.4" width="2.6" height="2.6" fill="#0cab3c"/>
<rect x="266.8" y="446.0" width="2.6" height="2.6" fill="#0cab3c"/>
<rect x="243.6" y="447.1" width="2.6" height="2.6" fill="#0cab3c"/>
<rect x="267.6" y="445.2" width="2.6" height="2.6" fill="#0cab3c"/>
<rect x="244.8" y="448.4" width="2.6" height="2.6" fill="#0cab3c"/>
<rect x="272.3" y="441.4" width="2.6" height="2.6" fill="#0cab3c"/>
<rect x="266.1" y="446.0" width="2.6" height="2.6" fill="#0cab3c"/>
<rect x="242.8" y="447.4" width="2.6" height="2.6" fill="#0cab3c"/>
<rect x="268.8" y="444.5" width="2.6" height="2.6" fill="#0cab3c"/>
<rect x="244.9" y="448.0" width="2.6" height="2.6" fill="#0cab3c"/>
<rect x="243.8" y="446.9" width="2.6" height="2.6" fill="#0cab3c"/>
<rect x="243.5" y="447.2" width="2.6" height="2.6" fill="#0cab3c"/>
<rect x="246.8" y="447.4" width="2.6" height="2.6" fill="#0cab3c"/>
<rect x="245.2" y="447.4" width="2.6" height="2.6" fill="#0cab3c"/>
<rect x="267.0" y="446.7" width="2.6" height="2.6" fill="#0cab3c"/>
<rect x="273.3" y="441.5" width="2.6" height="2.6" fill="#0cab3c"/>
<rect x="270.3" y="442.7" width="2.6" height="2.6" fill="#0cab3c"/>
<rect x="246.1" y="448.5" width="2.6" height="2.6" fill="#0cab3c"/>
<rect x="246.8" y="447.4" width="2.6" height="2.6" fill="#0cab3c"/>
<rect x="276.5" y="442.7" width="2.6" height="2.6" fill="#0cab3c"/>
<rect x="269.8" y="442.9" width="2.6" height="2.6" fill="#0cab3c"/>
<rect x="272.5" y="441.3" width="2.6" height="2.6" fill="#0cab3c"/>
<rect x="268.8" y="444.3" width="2.6" height="2.6" fill="#0cab3c"/>
<rect x="273.9" y="441.8" width="2.6" height="2.6" fill="#0cab3c"/>
<rect x="246.4" y="448.2" width="2.6" height="2.6" fill="#0cab3c"/>
<rect x="267.6" y="446.0" width="2.6" height="2.6" fill="#0cab3c"/>
<rect x="246.6" y="446.9" width="2.6" height="2.6" fill="#0cab3c"/>
<rect x="268.5" y="447.5" width="2.6" height="2.6" fill="#0cab3c"/>
<rect x="277.7" y="449.5" width="2.6" height="2.6" fill="#0cab3c"/>
<rect x="269.0" y="444.3" width="2.6" height="2.6" fill="#0cab3c"/>
<rect x="270.4" y="442.8" width="2.6" height="2.6" fill="#0cab3c"/>
<rect x="267.1" y="446.5" width="2.6" height="2.6" fill="#0cab3c"/>
<rect x="273.1" y="441.8" width="2.6" height="2.6" fill="#0cab3c"/>
<rect x="270.3" y="443.1" width="2.6" height="2.6" fill="#0cab3c"/>
<rect x="271.5" y="442.2" width="2.6" height="2.6" fill="#0cab3c"/>
<rect x="277.2" y="444.2" width="2.6" height="2.6" fill="#0cab3c"/>
<rect x="268.4" y="445.2" width="2.6" height="2.6" fill="#0cab3c"/>
<rect x="275.0" y="442.4" width="2.6" height="2.6" fill="#0cab3c"/>
<rect x="269.8" y="444.0" width="2.6" height="2.6" fill="#0cab3c"/>
<rect x="270.8" y="449.0" width="2.6" height="2.6" fill="#0cab3c"/>
<rect x="277.5" y="444.8" width="2.6" height="2.6" fill="#0cab3c"/>
<rect x="276.5" y="443.4" width="2.6" height="2.6" fill="#0cab3c"/>
<rect x="272.4" y="442.3" width="2.6" height="2.6" fill="#0cab3c"/>
<rect x="275.2" y="443.0" width="2.6" height="2.6" fill="#0cab3c"/>
<rect x="271.6" y="449.6" width="2.6" height="2.6" fill="#0cab3c"/>
<rect x="270.2" y="448.1" width="2.6" height="2.6" fill="#0cab3c"/>
<rect x="269.0" y="446.7" width="2.6" height="2.6" fill="#0cab3c"/>
<rect x="269.8" y="444.9" width="2.6" height="2.6" fill="#0cab3c"/>
<rect x="276.3" y="443.7" width="2.6" height="2.6" fill="#0cab3c"/>
<rect x="274.6" y="442.7" width="2.6" height="2.6" fill="#0cab3c"/>
<rect x="272.2" y="449.5" width="2.6" height="2.6" fill="#0cab3c"/>
<rect x="271.1" y="443.3" width="2.6" height="2.6" fill="#0cab3c"/>
<rect x="270.5" y="443.8" width="2.6" height="2.6" fill="#0cab3c"/>
<rect x="277.7" y="445.4" width="2.6" height="2.6" fill="#0cab3c"/>
<rect x="269.8" y="446.5" width="2.6" height="2.6" fill="#0cab3c"/>
<rect x="270.2" y="445.1" width="2.6" height="2.6" fill="#0cab3c"/>
<rect x="273.9" y="442.8" width="2.6" height="2.6" fill="#0cab3c"/>
<rect x="270.4" y="445.7" width="2.6" height="2.6" fill="#0cab3c"/>
<rect x="271.9" y="443.1" width="2.6" height="2.6" fill="#0cab3c"/>
<rect x="277.1" y="449.5" width="2.6" height="2.6" fill="#0cab3c"/>
<rect x="269.9" y="447.0" width="2.6" height="2.6" fill="#0cab3c"/>
<rect x="271.0" y="443.6" width="2.6" height="2.6" fill="#0cab3c"/>
<rect x="276.2" y="443.9" width="2.6" height="2.6" fill="#0cab3c"/>
<rect x="276.6" y="444.5" width="2.6" height="2.6" fill="#0cab3c"/>
<rect x="272.0" y="449.3" width="2.6" height="2.6" fill="#0cab3c"/>
<rect x="277.5" y="448.7" width="2.6" height="2.6" fill="#0cab3c"/>
<rect x="277.1" y="449.3" width="2.6" height="2.6" fill="#0cab3c"/>
<rect x="277.5" y="445.3" width="2.6" height="2.6" fill="#0cab3c"/>
<rect x="271.1" y="443.9" width="2.6" height="2.6" fill="#0cab3c"/>
<rect x="276.8" y="449.5" width="2.6" height="2.6" fill="#0cab3c"/>
<rect x="270.9" y="445.2" width="2.6" height="2.6" fill="#0cab3c"/>
<rect x="270.7" y="447.6" width="2.6" height="2.6" fill="#0cab3c"/>
<rect x="276.4" y="449.7" width="2.6" height="2.6" fill="#0cab3c"/>
<rect x="276.8" y="449.4" width="2.6" height="2.6" fill="#0cab3c"/>
<rect x="271.6" y="449.0" width="2.6" height="2.6" fill="#0cab3c"/>
<rect x="277.5" y="445.5" width="2.6" height="2.6" fill="#0cab3c"/>
<rect x="272.5" y="443.6" width="2.6" height="2.6" fill="#0cab3c"/>
<rect x="277.4" y="445.4" width="2.6" height="2.6" fill="#0cab3c"/>
<rect x="276.3" y="444.6" width="2.6" height="2.6" fill="#0cab3c"/>
<rect x="271.7" y="444.3" width="2.6" height="2.6" fill="#0cab3c"/>
<rect x="271.7" y="449.0" width="2.6" height="2.6" fill="#0cab3c"/>
<rect x="272.6" y="449.2" width="2.6" height="2.6" fill="#0cab3c"/>
<rect x="277.0" y="449.1" width="2.6" height="2.6" fill="#0cab3c"/>
<rect x="277.3" y="445.5" width="2.6" height="2.6" fill="#0cab3c"/>
<rect x="271.0" y="446.0" width="2.6" height="2.6" fill="#0cab3c"/>
<rect x="277.6" y="448.4" width="2.6" height="2.6" fill="#0cab3c"/>
<rect x="277.7" y="448.3" width="2.6" height="2.6" fill="#0cab3c"/>
<rect x="272.1" y="444.3" width="2.6" height="2.6" fill="#0cab3c"/>
<rect x="272.2" y="444.3" width="2.6" height="2.6" fill="#0cab3c"/>
<rect x="277.1" y="448.9" width="2.6" height="2.6" fill="#0cab3c"/>
<rect x="270.2" y="446.8" width="2.6" height="2.6" fill="#0cab3c"/>
<rect x="271.4" y="445.7" width="2.6" height="2.6" fill="#0cab3c"/>
<rect x="273.2" y="443.7" width="2.6" height="2.6" fill="#0cab3c"/>
<rect x="271.3" y="447.9" width="2.6" height="2.6" fill="#0cab3c"/>
<rect x="274.2" y="443.8" width="2.6" height="2.6" fill="#0cab3c"/>
<rect x="277.2" y="445.6" width="2.6" height="2.6" fill="#0cab3c"/>
<rect x="277.0" y="448.9" width="2.6" height="2.6" fill="#0cab3c"/>
<rect x="273.2" y="449.3" width="2.6" height="2.6" fill="#0cab3c"/>
<rect x="271.2" y="447.4" width="2.6" height="2.6" fill="#0cab3c"/>
<rect x="271.5" y="445.9" width="2.6" height="2.6" fill="#0cab3c"/>
<rect x="274.7" y="444.0" width="2.6" height="2.6" fill="#0cab3c"/>
<rect x="276.5" y="449.3" width="2.6" height="2.6" fill="#0cab3c"/>
<rect x="275.8" y="444.6" width="2.6" height="2.6" fill="#0cab3c"/>
<rect x="273.5" y="443.8" width="2.6" height="2.6" fill="#0cab3c"/>
<rect x="277.3" y="446.1" width="2.6" height="2.6" fill="#0cab3c"/>
<rect x="272.4" y="444.5" width="2.6" height="2.6" fill="#0cab3c"/>
<rect x="273.1" y="449.2" width="2.6" height="2.6" fill="#0cab3c"/>
<rect x="273.8" y="444.2" width="2.6" height="2.6" fill="#0cab3c"/>
<rect x="277.4" y="448.1" width="2.6" height="2.6" fill="#0cab3c"/>
<rect x="272.2" y="444.8" width="2.6" height="2.6" fill="#0cab3c"/>
<rect x="271.2" y="447.0" width="2.6" height="2.6" fill="#0cab3c"/>
<rect x="271.9" y="445.5" width="2.6" height="2.6" fill="#0cab3c"/>
<rect x="272.7" y="448.7" width="2.6" height="2.6" fill="#0cab3c"/>
<rect x="274.9" y="444.2" width="2.6" height="2.6" fill="#0cab3c"/>
<rect x="277.4" y="446.2" width="2.6" height="2.6" fill="#0cab3c"/>
<rect x="271.5" y="446.6" width="2.6" height="2.6" fill="#0cab3c"/>
<rect x="271.7" y="447.7" width="2.6" height="2.6" fill="#0cab3c"/>
<rect x="272.6" y="444.5" width="2.6" height="2.6" fill="#0cab3c"/>
<rect x="277.2" y="448.5" width="2.6" height="2.6" fill="#0cab3c"/>
<rect x="277.6" y="446.5" width="2.6" height="2.6" fill="#0cab3c"/>
<rect x="273.9" y="444.4" width="2.6" height="2.6" fill="#0cab3c"/>
<rect x="276.4" y="449.2" width="2.6" height="2.6" fill="#0cab3c"/>
<rect x="273.0" y="449.0" width="2.6" height="2.6" fill="#0cab3c"/>
<rect x="273.7" y="449.1" width="2.6" height="2.6" fill="#0cab3c"/>
<rect x="277.3" y="447.5" width="2.6" height="2.6" fill="#0cab3c"/>
<rect x="274.9" y="444.6" width="2.6" height="2.6" fill="#0cab3c"/>
<rect x="277.2" y="447.8" width="2.6" height="2.6" fill="#0cab3c"/>
<rect x="275.5" y="444.7" width="2.6" height="2.6" fill="#0cab3c"/>
<rect x="271.8" y="446.1" width="2.6" height="2.6" fill="#0cab3c"/>
<rect x="273.3" y="444.9" width="2.6" height="2.6" fill="#0cab3c"/>
<rect x="274.9" y="444.6" width="2.6" height="2.6" fill="#0cab3c"/>
<rect x="272.9" y="445.0" width="2.6" height="2.6" fill="#0cab3c"/>
<rect x="276.9" y="446.1" width="2.6" height="2.6" fill="#0cab3c"/>
<rect x="276.0" y="449.4" width="2.6" height="2.6" fill="#0cab3c"/>
<rect x="273.1" y="448.6" width="2.6" height="2.6" fill="#0cab3c"/>
<rect x="277.3" y="447.2" width="2.6" height="2.6" fill="#0cab3c"/>
<rect x="275.6" y="445.0" width="2.6" height="2.6" fill="#0cab3c"/>
<rect x="272.7" y="448.2" width="2.6" height="2.6" fill="#0cab3c"/>
<rect x="273.4" y="448.5" width="2.6" height="2.6" fill="#0cab3c"/>
<rect x="273.5" y="448.7" width="2.6" height="2.6" fill="#0cab3c"/>
<rect x="274.3" y="449.6" width="2.6" height="2.6" fill="#0cab3c"/>
<rect x="277.2" y="446.9" width="2.6" height="2.6" fill="#0cab3c"/>
<rect x="276.2" y="449.1" width="2.6" height="2.6" fill="#0cab3c"/>
<rect x="272.8" y="448.2" width="2.6" height="2.6" fill="#0cab3c"/>
<rect x="274.3" y="449.3" width="2.6" height="2.6" fill="#0cab3c"/>
<rect x="276.8" y="448.3" width="2.6" height="2.6" fill="#0cab3c"/>
<rect x="275.9" y="449.0" width="2.6" height="2.6" fill="#0cab3c"/>
<rect x="274.2" y="449.1" width="2.6" height="2.6" fill="#0cab3c"/>
<rect x="272.1" y="446.3" width="2.6" height="2.6" fill="#0cab3c"/>
<rect x="276.7" y="448.2" width="2.6" height="2.6" fill="#0cab3c"/>
<rect x="276.4" y="448.4" width="2.6" height="2.6" fill="#0cab3c"/>
<rect x="276.8" y="447.9" width="2.6" height="2.6" fill="#0cab3c"/>
<rect x="274.8" y="449.5" width="2.6" height="2.6" fill="#0cab3c"/>
<rect x="272.2" y="447.3" width="2.6" height="2.6" fill="#0cab3c"/>
<rect x="275.6" y="445.4" width="2.6" height="2.6" fill="#0cab3c"/>
<rect x="275.0" y="445.1" width="2.6" height="2.6" fill="#0cab3c"/>
<rect x="273.0" y="447.6" width="2.6" height="2.6" fill="#0cab3c"/>
<rect x="277.0" y="447.5" width="2.6" height="2.6" fill="#0cab3c"/>
<rect x="276.7" y="446.2" width="2.6" height="2.6" fill="#0cab3c"/>
<rect x="274.5" y="449.3" width="2.6" height="2.6" fill="#0cab3c"/>
<rect x="273.9" y="448.3" width="2.6" height="2.6" fill="#0cab3c"/>
<rect x="273.2" y="445.8" width="2.6" height="2.6" fill="#0cab3c"/>
<rect x="272.8" y="447.4" width="2.6" height="2.6" fill="#0cab3c"/>
<rect x="275.9" y="448.5" width="2.6" height="2.6" fill="#0cab3c"/>
<rect x="276.9" y="446.6" width="2.6" height="2.6" fill="#0cab3c"/>
<rect x="275.0" y="448.8" width="2.6" height="2.6" fill="#0cab3c"/>
<rect x="274.0" y="448.3" width="2.6" height="2.6" fill="#0cab3c"/>
<rect x="273.3" y="447.4" width="2.6" height="2.6" fill="#0cab3c"/>
<rect x="275.7" y="448.7" width="2.6" height="2.6" fill="#0cab3c"/>
<rect x="274.0" y="447.8" width="2.6" height="2.6" fill="#0cab3c"/>
<rect x="274.8" y="445.4" width="2.6" height="2.6" fill="#0cab3c"/>
<rect x="274.3" y="448.4" width="2.6" height="2.6" fill="#0cab3c"/>
<rect x="274.6" y="448.8" width="2.6" height="2.6" fill="#0cab3c"/>
<rect x="274.6" y="448.8" width="2.6" height="2.6" fill="#0cab3c"/>
<rect x="275.3" y="448.5" width="2.6" height="2.6" fill="#0cab3c"/>
<rect x="276.2" y="446.5" width="2.6" height="2.6" fill="#0cab3c"/>
<rect x="276.2" y="447.6" width="2.6" height="2.6" fill="#0cab3c"/>
<rect x="275.1" y="448.2" width="2.6" height="2.6" fill="#0cab3c"/>
<rect x="274.0" y="447.5" width="2.6" height="2.6" fill="#0cab3c"/>
<rect x="273.9" y="447.3" width="2.6" height="2.6" fill="#0cab3c"/>
<rect x="273.9" y="447.5" width="2.6" height="2.6" fill="#0cab3c"/>
<rect x="273.8" y="446.6" width="2.6" height="2.6" fill="#0cab3c"/>
<rect x="273.5" y="446.8" width="2.6" height="2.6" fill="#0cab3c"/>
<rect x="275.0" y="447.7" width="2.6" height="2.6" fill="#0cab3c"/>
<rect x="273.3" y="446.6" width="2.6" height="2.6" fill="#0cab3c"/>
<rect x="275.7" y="447.8" width="2.6" height="2.6" fill="#0cab3c"/>
<rect x="275.6" y="447.8" width="2.6" height="2.6" fill="#0cab3c"/>
<rect x="275.2" y="446.3" width="2.6" height="2.6" fill="#0cab3c"/>
<rect x="274.3" y="447.4" width="2.6" height="2.6" fill="#0cab3c"/>
<rect x="275.6" y="447.5" width="2.6" height="2.6" fill="#0cab3c"/>
<rect x="275.7" y="447.2" width="2.6" height="2.6" fill="#0cab3c"/>
<rect x="274.8" y="447.5" width="2.6" height="2.6" fill="#0cab3c"/>
<rect x="275.2" y="446.3" width="2.6" height="2.6" fill="#0cab3c"/>
<rect x="274.7" y="447.0" width="2.6" height="2.6" fill="#0cab3c"/>
<rect x="275.7" y="447.0" width="2.6" height="2.6" fill="#0cab3c"/>
<rect x="274.6" y="446.5" width="2.6" height="2.6" fill="#0cab3c"/>
<rect x="274.5" y="446.5" width="2.6" height="2.6" fill="#0cab3c"/>
<rect x="275.1" y="446.6" width="2.6" height="2.6" fill="#0cab3c"/>
<rect x="274.6" y="446.7" width="2.6" height="2.6" fill="#0cab3c"/>
<rect x="441.0" y="163.1" width="2.6" height="2.6" fill="#b8182e"/>
<rect x="458.5" y="190.7" width="2.6" height="2.6" fill="#b8182e"/>
<rect x="394.9" y="200.1" width="2.6" height="2.6" fill="#b8182e"/>
<rect x="495.1" y="216.8" width="2.6" height="2.6" fill="#b8182e"/>
<rect x="382.1" y="228.3" width="2.6" height="2.6" fill="#b8182e"/>
<rect x="367.6" y="237.1" width="2.6" height="2.6" fill="#b8182e"/>
<rect x="372.9" y="239.7" width="2.6" height="2.6" fill="#b8182e"/>
<rect x="396.1" y="236.4" width="2.6" height="2.6" fill="#b8182e"/>
<rect x="455.0" y="255.2" width="2.6" height="2.6" fill="#b8182e"/>
<rect x="457.0" y="260.5" width="2.6" height="2.6" fill="#b8182e"/>
<rect x="370.1" y="260.0" width="2.6" height="2.6" fill="#b8182e"/>
<rect x="368.6" y="266.9" width="2.6" height="2.6" fill="#b8182e"/>
<rect x="410.5" y="266.6" width="2.6" height="2.6" fill="#b8182e"/>
<rect x="433.2" y="271.2" width="2.6" height="2.6" fill="#b8182e"/>
<rect x="359.3" y="293.8" width="2.6" height="2.6" fill="#b8182e"/>
<rect x="362.3" y="301.7" width="2.6" height="2.6" fill="#b8182e"/>
<rect x="361.0" y="308.0" width="2.6" height="2.6" fill="#b8182e"/>
<rect x="394.9" y="305.1" width="2.6" height="2.6" fill="#b8182e"/>
<rect x="444.1" y="300.7" width="2.6" height="2.6" fill="#b8182e"/>
<rect x="474.2" y="303.8" width="2.6" height="2.6" fill="#b8182e"/>
<rect x="377.7" y="324.1" width="2.6" height="2.6" fill="#b8182e"/>
<rect x="403.1" y="336.3" width="2.6" height="2.6" fill="#b8182e"/>
<rect x="381.7" y="340.2" width="2.6" height="2.6" fill="#b8182e"/>
<rect x="473.2" y="335.2" width="2.6" height="2.6" fill="#b8182e"/>
<rect x="349.4" y="345.2" width="2.6" height="2.6" fill="#b8182e"/>
<rect x="357.5" y="343.5" width="2.6" height="2.6" fill="#b8182e"/>
<rect x="360.0" y="343.5" width="2.6" height="2.6" fill="#b8182e"/>
<rect x="369.2" y="372.0" width="2.6" height="2.6" fill="#b8182e"/>
<rect x="409.9" y="370.4" width="2.6" height="2.6" fill="#b8182e"/>
<rect x="350.1" y="378.4" width="2.6" height="2.6" fill="#b8182e"/>
<rect x="379.8" y="377.5" width="2.6" height="2.6" fill="#b8182e"/>
<rect x="433.5" y="378.7" width="2.6" height="2.6" fill="#b8182e"/>
<rect x="500.1" y="380.0" width="2.6" height="2.6" fill="#b8182e"/>
<rect x="335.4" y="384.0" width="2.6" height="2.6" fill="#b8182e"/>
<rect x="443.7" y="385.0" width="2.6" height="2.6" fill="#b8182e"/>
<rect x="363.5" y="387.7" width="2.6" height="2.6" fill="#b8182e"/>
<rect x="335.7" y="391.6" width="2.6" height="2.6" fill="#b8182e"/>
<rect x="342.2" y="391.0" width="2.6" height="2.6" fill="#b8182e"/>
<rect x="369.4" y="391.6" width="2.6" height="2.6" fill="#b8182e"/>
<rect x="354.4" y="395.0" width="2.6" height="2.6" fill="#b8182e"/>
<rect x="343.2" y="398.1" width="2.6" height="2.6" fill="#b8182e"/>
<rect x="367.7" y="402.8" width="2.6" height="2.6" fill="#b8182e"/>
<rect x="371.4" y="404.4" width="2.6" height="2.6" fill="#b8182e"/>
<rect x="378.0" y="400.2" width="2.6" height="2.6" fill="#b8182e"/>
<rect x="378.0" y="402.7" width="2.6" height="2.6" fill="#b8182e"/>
<rect x="378.0" y="405.2" width="2.6" height="2.6" fill="#b8182e"/>
<rect x="385.5" y="404.0" width="2.6" height="2.6" fill="#b8182e"/>
<rect x="399.3" y="403.5" width="2.6" height="2.6" fill="#b8182e"/>
<rect x="419.6" y="402.9" width="2.6" height="2.6" fill="#b8182e"/>
<rect x="450.0" y="404.2" width="2.6" height="2.6" fill="#b8182e"/>
<rect x="400.5" y="409.8" width="2.6" height="2.6" fill="#b8182e"/>
<rect x="406.8" y="409.8" width="2.6" height="2.6" fill="#b8182e"/>
<rect x="409.9" y="409.2" width="2.6" height="2.6" fill="#b8182e"/>
<rect x="359.2" y="410.4" width="2.6" height="2.6" fill="#b8182e"/>
<rect x="364.8" y="411.3" width="2.6" height="2.6" fill="#b8182e"/>
<rect x="371.1" y="410.9" width="2.6" height="2.6" fill="#b8182e"/>
<rect x="407.4" y="416.7" width="2.6" height="2.6" fill="#b8182e"/>
<rect x="361.0" y="418.8" width="2.6" height="2.6" fill="#b8182e"/>
<rect x="472.6" y="419.2" width="2.6" height="2.6" fill="#b8182e"/>
<rect x="375.8" y="422.6" width="2.6" height="2.6" fill="#b8182e"/>
<rect x="409.3" y="423.8" width="2.6" height="2.6" fill="#b8182e"/>
<rect x="441.9" y="425.1" width="2.6" height="2.6" fill="#b8182e"/>
<rect x="392.1" y="426.1" width="2.6" height="2.6" fill="#b8182e"/>
<rect x="467.2" y="431.7" width="2.6" height="2.6" fill="#b8182e"/>
<rect x="394.2" y="433.2" width="2.6" height="2.6" fill="#b8182e"/>
<rect x="409.9" y="433.0" width="2.6" height="2.6" fill="#b8182e"/>
<rect x="414.9" y="437.0" width="2.6" height="2.6" fill="#b8182e"/>
<rect x="420.8" y="438.6" width="2.6" height="2.6" fill="#b8182e"/>
<rect x="434.3" y="437.6" width="2.6" height="2.6" fill="#b8182e"/>
<rect x="445.0" y="437.4" width="2.6" height="2.6" fill="#b8182e"/>
<rect x="438.1" y="440.5" width="2.6" height="2.6" fill="#b8182e"/>
<rect x="433.5" y="442.6" width="2.6" height="2.6" fill="#b8182e"/>
<rect x="500.5" y="380.6" width="2.6" height="2.6" fill="#b8182e"/>
<rect x="500.5" y="394.7" width="2.6" height="2.6" fill="#b8182e"/>
<rect x="500.5" y="410.2" width="2.6" height="2.6" fill="#b8182e"/>
<rect x="500.5" y="416.7" width="2.6" height="2.6" fill="#b8182e"/>
<rect x="500.5" y="422.7" width="2.6" height="2.6" fill="#b8182e"/>
<rect x="500.5" y="428.7" width="2.6" height="2.6" fill="#b8182e"/>
<rect x="500.5" y="431.7" width="2.6" height="2.6" fill="#b8182e"/>
<rect x="500.5" y="435.7" width="2.6" height="2.6" fill="#b8182e"/>
<rect x="500.5" y="439.7" width="2.6" height="2.6" fill="#b8182e"/>
<rect x="500.5" y="442.7" width="2.6" height="2.6" fill="#b8182e"/>
<rect x="500.5" y="445.7" width="2.6" height="2.6" fill="#b8182e"/>
<rect x="500.5" y="448.7" width="2.6" height="2.6" fill="#b8182e"/>
<rect x="495.0" y="408.7" width="2.6" height="2.6" fill="#b8182e"/>
<rect x="500.5" y="453.2" width="2.6" height="2.6" fill="#a9b1b1"/>
<rect x="107.0" y="431.8" width="2.4" height="2.4" fill="#4a9868"/>
<rect x="130.6" y="448.4" width="2.4" height="2.4" fill="#4a9868"/>
<rect x="160.9" y="427.8" width="2.4" height="2.4" fill="#4a9868"/>
<rect x="162.1" y="429.6" width="2.4" height="2.4" fill="#4a9868"/>
<rect x="181.3" y="387.2" width="2.4" height="2.4" fill="#4a9868"/>
<rect x="172.2" y="443.0" width="2.4" height="2.4" fill="#4a9868"/>
<rect x="178.2" y="444.9" width="2.4" height="2.4" fill="#4a9868"/>
<rect x="190.1" y="440.5" width="2.4" height="2.4" fill="#4a9868"/>
<rect x="191.3" y="412.7" width="2.4" height="2.4" fill="#4a9868"/>
<rect x="198.8" y="412.7" width="2.4" height="2.4" fill="#4a9868"/>
<rect x="205.0" y="421.9" width="2.4" height="2.4" fill="#4a9868"/>
<rect x="205.0" y="440.7" width="2.4" height="2.4" fill="#4a9868"/>
<rect x="198.7" y="444.2" width="2.4" height="2.4" fill="#4a9868"/>
<rect x="193.2" y="445.8" width="2.4" height="2.4" fill="#4a9868"/>
<rect x="216.0" y="425.2" width="2.4" height="2.4" fill="#4a9868"/>
<rect x="218.9" y="411.4" width="2.4" height="2.4" fill="#4a9868"/>
<rect x="217.0" y="394.9" width="2.4" height="2.4" fill="#4a9868"/>
<rect x="217.0" y="404.5" width="2.4" height="2.4" fill="#4a9868"/>
<rect x="224.2" y="389.7" width="2.4" height="2.4" fill="#4a9868"/>
<rect x="230.2" y="388.0" width="2.4" height="2.4" fill="#4a9868"/>
<rect x="235.4" y="388.2" width="2.4" height="2.4" fill="#4a9868"/>
<rect x="237.7" y="380.1" width="2.4" height="2.4" fill="#4a9868"/>
<rect x="244.0" y="380.3" width="2.4" height="2.4" fill="#4a9868"/>
<rect x="248.2" y="379.5" width="2.4" height="2.4" fill="#4a9868"/>
<rect x="240.5" y="370.3" width="2.4" height="2.4" fill="#4a9868"/>
<rect x="253.6" y="392.0" width="2.4" height="2.4" fill="#4a9868"/>
<rect x="252.4" y="395.1" width="2.4" height="2.4" fill="#4a9868"/>
<rect x="246.7" y="398.5" width="2.4" height="2.4" fill="#4a9868"/>
<rect x="245.2" y="402.9" width="2.4" height="2.4" fill="#4a9868"/>
<rect x="241.1" y="405.1" width="2.4" height="2.4" fill="#4a9868"/>
<rect x="252.4" y="402.4" width="2.4" height="2.4" fill="#4a9868"/>
<rect x="256.8" y="402.6" width="2.4" height="2.4" fill="#4a9868"/>
<rect x="232.6" y="332.9" width="2.4" height="2.4" fill="#4a9868"/>
<rect x="164.3" y="357.7" width="2.4" height="2.4" fill="#4a9868"/>
<rect x="157.2" y="367.3" width="2.4" height="2.4" fill="#4a9868"/>
<rect x="227.4" y="357.7" width="2.4" height="2.4" fill="#4a9868"/>
<rect x="242.2" y="407.2" width="2.4" height="2.4" fill="#4a9868"/>
<rect x="259.1" y="409.1" width="2.4" height="2.4" fill="#4a9868"/>
<rect x="239.7" y="414.7" width="2.4" height="2.4" fill="#4a9868"/>
<rect x="231.3" y="420.4" width="2.4" height="2.4" fill="#4a9868"/>
<rect x="106.80" y="449.60" width="2.90" height="3.20" fill="#6fa584" />
<rect x="106.80" y="452.80" width="2.90" height="3.60" fill="#9aa6a2" />
</g>
<line x1="91.20" y1="472.50" x2="519.00" y2="472.50" stroke="#9b9b9b" stroke-width="3" />
</g>
<g id="panel-b-enrichment">
<rect x="1128.00" y="16.30" width="377.60" height="507.90" fill="#ebebeb" />
<line x1="1208.40" y1="16.30" x2="1208.40" y2="524.20" stroke="#f2f2f2" stroke-width="0.9" />
<line x1="1335.40" y1="16.30" x2="1335.40" y2="524.20" stroke="#f2f2f2" stroke-width="0.9" />
<line x1="1462.40" y1="16.30" x2="1462.40" y2="524.20" stroke="#f2f2f2" stroke-width="0.9" />
<line x1="1144.50" y1="16.30" x2="1144.50" y2="524.20" stroke="#f7f7f7" stroke-width="1.3" />
<line x1="1144.50" y1="524.20" x2="1144.50" y2="527.20" stroke="#8a8a8a" stroke-width="1" />
<line x1="1272.00" y1="16.30" x2="1272.00" y2="524.20" stroke="#f7f7f7" stroke-width="1.3" />
<line x1="1272.00" y1="524.20" x2="1272.00" y2="527.20" stroke="#8a8a8a" stroke-width="1" />
<line x1="1398.60" y1="16.30" x2="1398.60" y2="524.20" stroke="#f7f7f7" stroke-width="1.3" />
<line x1="1398.60" y1="524.20" x2="1398.60" y2="527.20" stroke="#8a8a8a" stroke-width="1" />
<line x1="1128.00" y1="31.90" x2="1505.60" y2="31.90" stroke="#f8f8f8" stroke-width="1.3" />
<line x1="1128.00" y1="57.06" x2="1505.60" y2="57.06" stroke="#f8f8f8" stroke-width="1.3" />
<line x1="1128.00" y1="82.23" x2="1505.60" y2="82.23" stroke="#f8f8f8" stroke-width="1.3" />
<line x1="1128.00" y1="107.40" x2="1505.60" y2="107.40" stroke="#f8f8f8" stroke-width="1.3" />
<line x1="1128.00" y1="132.56" x2="1505.60" y2="132.56" stroke="#f8f8f8" stroke-width="1.3" />
<line x1="1128.00" y1="157.72" x2="1505.60" y2="157.72" stroke="#f8f8f8" stroke-width="1.3" />
<line x1="1128.00" y1="182.89" x2="1505.60" y2="182.89" stroke="#f8f8f8" stroke-width="1.3" />
<line x1="1128.00" y1="208.06" x2="1505.60" y2="208.06" stroke="#f8f8f8" stroke-width="1.3" />
<line x1="1128.00" y1="233.22" x2="1505.60" y2="233.22" stroke="#f8f8f8" stroke-width="1.3" />
<line x1="1128.00" y1="258.38" x2="1505.60" y2="258.38" stroke="#f8f8f8" stroke-width="1.3" />
<line x1="1128.00" y1="283.55" x2="1505.60" y2="283.55" stroke="#f8f8f8" stroke-width="1.3" />
<line x1="1128.00" y1="308.71" x2="1505.60" y2="308.71" stroke="#f8f8f8" stroke-width="1.3" />
<line x1="1128.00" y1="333.88" x2="1505.60" y2="333.88" stroke="#f8f8f8" stroke-width="1.3" />
<line x1="1128.00" y1="359.04" x2="1505.60" y2="359.04" stroke="#f8f8f8" stroke-width="1.3" />
<line x1="1128.00" y1="384.21" x2="1505.60" y2="384.21" stroke="#f8f8f8" stroke-width="1.3" />
<line x1="1128.00" y1="409.37" x2="1505.60" y2="409.37" stroke="#f8f8f8" stroke-width="1.3" />
<line x1="1128.00" y1="434.54" x2="1505.60" y2="434.54" stroke="#f8f8f8" stroke-width="1.3" />
<line x1="1128.00" y1="459.70" x2="1505.60" y2="459.70" stroke="#f8f8f8" stroke-width="1.3" />
<line x1="1128.00" y1="484.87" x2="1505.60" y2="484.87" stroke="#f8f8f8" stroke-width="1.3" />
<line x1="1128.00" y1="510.03" x2="1505.60" y2="510.03" stroke="#f8f8f8" stroke-width="1.3" />
<line x1="1124.60" y1="31.90" x2="1128.00" y2="31.90" stroke="#333" stroke-width="1.1" />
<line x1="1144.50" y1="31.90" x2="1488.30" y2="31.90" stroke="#ffffff" stroke-width="6.5" stroke-opacity="0.45"/>
<line x1="1144.50" y1="31.90" x2="1488.30" y2="31.90" stroke="#58489a" stroke-width="2.7" />
<circle cx="1488.30" cy="31.90" r="1.7" fill="#58489a" />
<text x="1121.30" y="38.90" font-size="20.87" text-anchor="end" fill="#1c1c1c" stroke="#1c1c1c" stroke-width="0.35" >Double-strand break repaid via homologous recombination</text>
<line x1="1124.60" y1="57.06" x2="1128.00" y2="57.06" stroke="#333" stroke-width="1.1" />
<line x1="1144.50" y1="57.06" x2="1480.80" y2="57.06" stroke="#ffffff" stroke-width="6.5" stroke-opacity="0.45"/>
<line x1="1144.50" y1="57.06" x2="1480.80" y2="57.06" stroke="#e6285e" stroke-width="2.7" />
<circle cx="1480.80" cy="57.06" r="2.3" fill="#e02060" />
<text x="1121.30" y="64.06" font-size="20.87" text-anchor="end" fill="#1c1c1c" stroke="#1c1c1c" stroke-width="0.35" >DNA-dependent DNA replication</text>
<line x1="1124.60" y1="82.23" x2="1128.00" y2="82.23" stroke="#333" stroke-width="1.1" />
<line x1="1144.50" y1="82.23" x2="1468.30" y2="82.23" stroke="#ffffff" stroke-width="6.5" stroke-opacity="0.45"/>
<line x1="1144.50" y1="82.23" x2="1468.30" y2="82.23" stroke="#c02088" stroke-width="2.7" />
<circle cx="1468.30" cy="82.23" r="2.6" fill="#c02088" />
<text x="1121.30" y="89.23" font-size="20.87" text-anchor="end" fill="#1c1c1c" stroke="#1c1c1c" stroke-width="0.35" >Double-strand break repaid</text>
<line x1="1124.60" y1="107.40" x2="1128.00" y2="107.40" stroke="#333" stroke-width="1.1" />
<line x1="1144.50" y1="107.40" x2="1467.50" y2="107.40" stroke="#ffffff" stroke-width="6.5" stroke-opacity="0.45"/>
<line x1="1144.50" y1="107.40" x2="1467.50" y2="107.40" stroke="#7874b4" stroke-width="2.7" />
<circle cx="1467.50" cy="107.40" r="2.1" fill="#4c4a9c" />
<text x="1121.30" y="114.40" font-size="20.87" text-anchor="end" fill="#1c1c1c" stroke="#1c1c1c" stroke-width="0.35" >Recombinational repaid</text>
<line x1="1124.60" y1="132.56" x2="1128.00" y2="132.56" stroke="#333" stroke-width="1.1" />
<line x1="1144.50" y1="132.56" x2="1461.80" y2="132.56" stroke="#ffffff" stroke-width="6.5" stroke-opacity="0.45"/>
<line x1="1144.50" y1="132.56" x2="1461.80" y2="132.56" stroke="#f04040" stroke-width="2.7" />
<circle cx="1461.80" cy="132.56" r="2.6" fill="#f03030" />
<text x="1121.30" y="139.56" font-size="20.87" text-anchor="end" fill="#1c1c1c" stroke="#1c1c1c" stroke-width="0.35" >DNA replication</text>
<line x1="1124.60" y1="157.72" x2="1128.00" y2="157.72" stroke="#333" stroke-width="1.1" />
<line x1="1144.50" y1="157.72" x2="1407.50" y2="157.72" stroke="#ffffff" stroke-width="6.5" stroke-opacity="0.45"/>
<line x1="1144.50" y1="157.72" x2="1407.50" y2="157.72" stroke="#e050a0" stroke-width="2.7" />
<circle cx="1407.50" cy="157.72" r="2.8" fill="#c83090" />
<text x="1121.30" y="164.72" font-size="20.87" text-anchor="end" fill="#1c1c1c" stroke="#1c1c1c" stroke-width="0.35" >DNA recombination</text>
<line x1="1124.60" y1="182.89" x2="1128.00" y2="182.89" stroke="#333" stroke-width="1.1" />
<line x1="1144.50" y1="182.89" x2="1351.30" y2="182.89" stroke="#ffffff" stroke-width="6.5" stroke-opacity="0.45"/>
<line x1="1144.50" y1="182.89" x2="1351.30" y2="182.89" stroke="#d22870" stroke-width="2.7" />
<circle cx="1351.30" cy="182.89" r="3.1" fill="#d81860" />
<text x="1121.30" y="189.89" font-size="20.87" text-anchor="end" fill="#1c1c1c" stroke="#1c1c1c" stroke-width="0.35" >DNA repaid</text>
<line x1="1124.60" y1="208.06" x2="1128.00" y2="208.06" stroke="#333" stroke-width="1.1" />
<line x1="1144.50" y1="208.06" x2="1350.80" y2="208.06" stroke="#ffffff" stroke-width="6.5" stroke-opacity="0.45"/>
<line x1="1144.50" y1="208.06" x2="1350.80" y2="208.06" stroke="#a03860" stroke-width="2.7" />
<circle cx="1350.80" cy="208.06" r="3.2" fill="#d82050" />
<text x="1121.30" y="215.06" font-size="20.87" text-anchor="end" fill="#1c1c1c" stroke="#1c1c1c" stroke-width="0.35" >Cellular response to DNA damage stimulus</text>
<line x1="1124.60" y1="233.22" x2="1128.00" y2="233.22" stroke="#333" stroke-width="1.1" />
<line x1="1144.50" y1="233.22" x2="1325.50" y2="233.22" stroke="#ffffff" stroke-width="6.5" stroke-opacity="0.45"/>
<line x1="1144.50" y1="233.22" x2="1325.50" y2="233.22" stroke="#e058a8" stroke-width="2.7" />
<circle cx="1325.50" cy="233.22" r="3.0" fill="#a83090" />
<text x="1116.60" y="240.22" font-size="20.87" text-anchor="end" fill="#1c1c1c" stroke="#1c1c1c" stroke-width="0.35" >Cell cycle process</text>
<line x1="1124.60" y1="258.38" x2="1128.00" y2="258.38" stroke="#333" stroke-width="1.1" />
<line x1="1144.50" y1="258.38" x2="1321.50" y2="258.38" stroke="#ffffff" stroke-width="6.5" stroke-opacity="0.45"/>
<line x1="1144.50" y1="258.38" x2="1321.50" y2="258.38" stroke="#e02848" stroke-width="2.7" />
<circle cx="1321.50" cy="258.38" r="3.4" fill="#e81838" />
<text x="1116.60" y="265.38" font-size="20.87" text-anchor="end" fill="#1c1c1c" stroke="#1c1c1c" stroke-width="0.35" >DNA metabolic process</text>
<line x1="1124.60" y1="283.55" x2="1128.00" y2="283.55" stroke="#333" stroke-width="1.1" />
<line x1="1144.50" y1="283.55" x2="1308.30" y2="283.55" stroke="#ffffff" stroke-width="6.5" stroke-opacity="0.45"/>
<line x1="1144.50" y1="283.55" x2="1308.30" y2="283.55" stroke="#c82880" stroke-width="2.7" />
<circle cx="1308.30" cy="283.55" r="3.4" fill="#d81880" />
<text x="1116.60" y="290.55" font-size="20.87" text-anchor="end" fill="#1c1c1c" stroke="#1c1c1c" stroke-width="0.35" >Cell cycle</text>
<line x1="1124.60" y1="308.71" x2="1128.00" y2="308.71" stroke="#333" stroke-width="1.1" />
<line x1="1144.50" y1="308.71" x2="1266.50" y2="308.71" stroke="#ffffff" stroke-width="6.5" stroke-opacity="0.45"/>
<line x1="1144.50" y1="308.71" x2="1266.50" y2="308.71" stroke="#5c4c9c" stroke-width="2.7" />
<circle cx="1266.50" cy="308.71" r="3.4" fill="#5040a0" />
<text x="1116.60" y="315.71" font-size="20.87" text-anchor="end" fill="#1c1c1c" stroke="#1c1c1c" stroke-width="0.35" >Cellular response to stress</text>
<line x1="1124.60" y1="333.88" x2="1128.00" y2="333.88" stroke="#333" stroke-width="1.1" />
<line x1="1144.50" y1="333.88" x2="1244.40" y2="333.88" stroke="#ffffff" stroke-width="6.5" stroke-opacity="0.45"/>
<line x1="1144.50" y1="333.88" x2="1244.40" y2="333.88" stroke="#244c88" stroke-width="2.7" />
<circle cx="1244.40" cy="333.88" r="4.4" fill="#1048a0" />
<text x="1116.60" y="340.88" font-size="20.87" text-anchor="end" fill="#1c1c1c" stroke="#1c1c1c" stroke-width="0.35" >Regulation of macromolecule biosynthetic process</text>
<line x1="1124.60" y1="359.04" x2="1128.00" y2="359.04" stroke="#333" stroke-width="1.1" />
<line x1="1144.50" y1="359.04" x2="1244.40" y2="359.04" stroke="#ffffff" stroke-width="6.5" stroke-opacity="0.45"/>
<line x1="1144.50" y1="359.04" x2="1244.40" y2="359.04" stroke="#244c88" stroke-width="2.7" />
<circle cx="1244.40" cy="359.04" r="4.4" fill="#1048a0" />
<text x="1116.60" y="366.04" font-size="20.87" text-anchor="end" fill="#1c1c1c" stroke="#1c1c1c" stroke-width="0.35" >Regulation of cellular macromolecule biosynthetic process</text>
<line x1="1124.60" y1="384.21" x2="1128.00" y2="384.21" stroke="#333" stroke-width="1.1" />
<line x1="1144.50" y1="384.21" x2="1243.70" y2="384.21" stroke="#ffffff" stroke-width="6.5" stroke-opacity="0.45"/>
<line x1="1144.50" y1="384.21" x2="1243.70" y2="384.21" stroke="#c41c78" stroke-width="2.7" />
<circle cx="1243.70" cy="384.21" r="4.7" fill="#e81890" />
<text x="1116.60" y="391.21" font-size="20.87" text-anchor="end" fill="#1c1c1c" stroke="#1c1c1c" stroke-width="0.35" >Response to stress</text>
<line x1="1124.60" y1="409.37" x2="1128.00" y2="409.37" stroke="#333" stroke-width="1.1" />
<line x1="1144.50" y1="409.37" x2="1243.30" y2="409.37" stroke="#ffffff" stroke-width="6.5" stroke-opacity="0.45"/>
<line x1="1144.50" y1="409.37" x2="1243.30" y2="409.37" stroke="#244c88" stroke-width="2.7" />
<circle cx="1243.30" cy="409.37" r="4.4" fill="#1048a0" />
<text x="1116.60" y="416.37" font-size="20.87" text-anchor="end" fill="#1c1c1c" stroke="#1c1c1c" stroke-width="0.35" >Regulation of biosynthetic process</text>
<line x1="1124.60" y1="434.54" x2="1128.00" y2="434.54" stroke="#333" stroke-width="1.1" />
<line x1="1144.50" y1="434.54" x2="1242.20" y2="434.54" stroke="#ffffff" stroke-width="6.5" stroke-opacity="0.45"/>
<line x1="1144.50" y1="434.54" x2="1242.20" y2="434.54" stroke="#783c8c" stroke-width="2.7" />
<circle cx="1242.20" cy="434.54" r="4.7" fill="#7838a0" />
<text x="1116.60" y="441.54" font-size="20.87" text-anchor="end" fill="#1c1c1c" stroke="#1c1c1c" stroke-width="0.35" >Regulation of macromolecule metabolic process</text>
<line x1="1124.60" y1="459.70" x2="1128.00" y2="459.70" stroke="#333" stroke-width="1.1" />
<line x1="1144.50" y1="459.70" x2="1239.80" y2="459.70" stroke="#ffffff" stroke-width="6.5" stroke-opacity="0.45"/>
<line x1="1144.50" y1="459.70" x2="1239.80" y2="459.70" stroke="#244c88" stroke-width="2.7" />
<circle cx="1239.80" cy="459.70" r="4.4" fill="#1048a0" />
<text x="1116.60" y="466.70" font-size="20.87" text-anchor="end" fill="#1c1c1c" stroke="#1c1c1c" stroke-width="0.35" >Regulation of cellular metabolic process</text>
<line x1="1124.60" y1="484.87" x2="1128.00" y2="484.87" stroke="#333" stroke-width="1.1" />
<line x1="1144.50" y1="484.87" x2="1238.90" y2="484.87" stroke="#ffffff" stroke-width="6.5" stroke-opacity="0.45"/>
<line x1="1144.50" y1="484.87" x2="1238.90" y2="484.87" stroke="#7058a8" stroke-width="2.7" />
<circle cx="1238.90" cy="484.87" r="4.7" fill="#5838a0" />
<text x="1116.60" y="491.87" font-size="20.87" text-anchor="end" fill="#1c1c1c" stroke="#1c1c1c" stroke-width="0.35" >Regulation of metabolic process</text>
<line x1="1124.60" y1="510.03" x2="1128.00" y2="510.03" stroke="#333" stroke-width="1.1" />
<line x1="1144.50" y1="510.03" x2="1234.20" y2="510.03" stroke="#ffffff" stroke-width="6.5" stroke-opacity="0.45"/>
<line x1="1144.50" y1="510.03" x2="1234.20" y2="510.03" stroke="#244c88" stroke-width="2.7" />
<circle cx="1234.20" cy="510.03" r="5.2" fill="#0848a0" />
<text x="1116.60" y="517.03" font-size="20.87" text-anchor="end" fill="#1c1c1c" stroke="#1c1c1c" stroke-width="0.35" >Nucleic acid metabolic process</text>
<text transform="translate(1144.5,549.7) scale(0.95,1)" font-size="21.8" text-anchor="middle" fill="#1c1c1c" stroke="#1c1c1c" stroke-width="0.3">0</text>
<text transform="translate(1272.3,549.7) scale(0.95,1)" font-size="21.8" text-anchor="middle" fill="#1c1c1c" stroke="#1c1c1c" stroke-width="0.3">2</text>
<text transform="translate(1400.2,549.7) scale(0.95,1)" font-size="21.8" text-anchor="middle" fill="#1c1c1c" stroke="#1c1c1c" stroke-width="0.3">4</text>
<text x="1239.20" y="574.40" font-size="20.75" text-anchor="start" fill="#1c1c1c" stroke="#1c1c1c" stroke-width="0.35" >Flod Enrichment</text>
<defs><linearGradient id="fdr" x1="0" y1="0" x2="0" y2="1"><stop offset="0" stop-color="#ff1024"/><stop offset="0.25" stop-color="#f60a58"/><stop offset="0.5" stop-color="#d21494"/><stop offset="0.75" stop-color="#7e2c9e"/><stop offset="1" stop-color="#1a48a0"/></linearGradient></defs>
<text x="1510.00" y="177.30" font-size="20.75" text-anchor="start" fill="#1c1c1c" stroke="#1c1c1c" stroke-width="0.35" >-log10(FDR)</text>
<rect x="1523.50" y="192.40" width="18.40" height="94.60" fill="url(#fdr)" />
<text transform="translate(1548.6,218.60) scale(0.92,1)" font-size="13.5" fill="#2a2a2a" stroke="#2a2a2a" stroke-width="0.15">14</text>
<text transform="translate(1548.6,243.90) scale(0.92,1)" font-size="13.5" fill="#2a2a2a" stroke="#2a2a2a" stroke-width="0.15">12</text>
<text transform="translate(1548.6,265.10) scale(0.92,1)" font-size="13.5" fill="#2a2a2a" stroke="#2a2a2a" stroke-width="0.15">10</text>
<text transform="translate(1548.6,287.10) scale(0.92,1)" font-size="13.5" fill="#2a2a2a" stroke="#2a2a2a" stroke-width="0.15">8</text>
<text x="1512.90" y="315.80" font-size="20.75" text-anchor="start" fill="#1c1c1c" stroke="#1c1c1c" stroke-width="0.35" >N.of Genes</text>
<rect x="1523.30" y="330.00" width="18.80" height="37.70" fill="#f2f2f2" />
<circle cx="1533.60" cy="339.00" r="3.9" fill="#000" />
<text transform="translate(1548.8,344.4) scale(0.92,1)" font-size="13.5" fill="#2a2a2a" stroke="#2a2a2a" stroke-width="0.15">100</text>
<circle cx="1533.60" cy="358.70" r="4.7" fill="#000" />
<text transform="translate(1548.8,363.8) scale(0.92,1)" font-size="13.5" fill="#2a2a2a" stroke="#2a2a2a" stroke-width="0.15">200</text>
</g>
<g id="panel-c-expression">
<rect x="161.30" y="643.00" width="61.20" height="10.80" fill="#75b5e5" />
<text x="248.60" y="654.80" font-size="19.4" text-anchor="start" fill="#0c0c0c" stroke="#0c0c0c" stroke-width="0.35" >Col-0</text>
<rect x="328.00" y="643.00" width="60.80" height="10.80" fill="#fd7b7e" />
<text x="415.20" y="654.60" font-size="19.0" text-anchor="start" fill="#0c0c0c" stroke="#0c0c0c" stroke-width="0.35" font-style="italic">rfc4e-3</text>
<rect x="535.00" y="643.00" width="60.60" height="10.80" fill="#dfbba4" />
<text x="622.30" y="654.60" font-size="19.0" text-anchor="start" fill="#0c0c0c" stroke="#0c0c0c" stroke-width="0.35" font-style="italic">rfc3-1</text>
<rect x="128.00" y="941.00" width="24.00" height="26.00" fill="#75b5e5" />
<rect x="137.50" y="938.70" width="5.00" height="10.80" fill="#000" />
<rect x="136.30" y="938.70" width="7.40" height="4.60" fill="#000" rx="0.6"/>
<rect x="136.30" y="944.90" width="7.40" height="4.60" fill="#000" rx="0.6"/>
<rect x="162.90" y="750.20" width="25.80" height="216.80" fill="#fd7b7e" />
<rect x="173.30" y="746.40" width="5.40" height="14.90" fill="#000" />
<rect x="171.90" y="746.40" width="8.20" height="4.60" fill="#000" rx="0.6"/>
<rect x="171.90" y="756.70" width="8.20" height="4.60" fill="#000" rx="0.6"/>
<text transform="translate(177.70,743.10) scale(1,0.86)" font-size="19.5" text-anchor="middle" fill="#1a1a1a">**</text>
<rect x="198.90" y="730.20" width="25.10" height="236.80" fill="#dfbba4" />
<rect x="209.20" y="712.60" width="5.40" height="43.20" fill="#000" />
<rect x="207.80" y="712.60" width="8.20" height="4.60" fill="#000" rx="0.6"/>
<rect x="207.80" y="751.20" width="8.20" height="4.60" fill="#000" rx="0.6"/>
<text transform="translate(213.20,711.50) scale(1,0.86)" font-size="19.5" text-anchor="middle" fill="#1a1a1a">**</text>
<rect x="172.95" y="967.00" width="4.60" height="15.00" fill="#000" />
<text x="175.25" y="1006.20" font-size="20.4" text-anchor="middle" fill="#0c0c0c" stroke="#0c0c0c" stroke-width="0.35" font-style="italic">BRCA1</text>
<rect x="253.00" y="941.00" width="25.00" height="26.00" fill="#75b5e5" />
<rect x="261.30" y="941.20" width="8.10" height="5.80" fill="#000" />
<rect x="287.80" y="793.10" width="25.10" height="173.90" fill="#fd7b7e" />
<rect x="297.10" y="792.00" width="8.20" height="8.90" fill="#000" />
<text transform="translate(301.50,790.70) scale(1,0.86)" font-size="19.5" text-anchor="middle" fill="#1a1a1a">**</text>
<rect x="324.20" y="734.20" width="25.40" height="232.80" fill="#dfbba4" />
<rect x="334.10" y="729.30" width="5.40" height="18.40" fill="#000" />
<rect x="332.70" y="729.30" width="8.20" height="4.60" fill="#000" rx="0.6"/>
<rect x="332.70" y="743.10" width="8.20" height="4.60" fill="#000" rx="0.6"/>
<text transform="translate(337.70,726.70) scale(1,0.86)" font-size="19.5" text-anchor="middle" fill="#1a1a1a">**</text>
<rect x="297.45" y="967.00" width="4.60" height="15.00" fill="#000" />
<text x="300.90" y="1006.20" font-size="20.4" text-anchor="middle" fill="#0c0c0c" stroke="#0c0c0c" stroke-width="0.35" font-style="italic">RAD51</text>
<rect x="377.50" y="940.00" width="25.50" height="27.00" fill="#75b5e5" />
<rect x="387.70" y="935.00" width="5.40" height="18.20" fill="#000" />
<rect x="386.30" y="935.00" width="8.20" height="4.60" fill="#000" rx="0.6"/>
<rect x="386.30" y="948.60" width="8.20" height="4.60" fill="#000" rx="0.6"/>
<rect x="413.70" y="926.20" width="24.60" height="40.80" fill="#fd7b7e" />
<rect x="422.10" y="927.00" width="7.80" height="6.00" fill="#000" />
<text transform="translate(426.80,924.30) scale(1,0.86)" font-size="19.5" text-anchor="middle" fill="#1a1a1a">*</text>
<rect x="449.50" y="910.00" width="25.00" height="57.00" fill="#dfbba4" />
<rect x="458.10" y="908.70" width="8.10" height="9.30" fill="#000" />
<text transform="translate(462.50,907.30) scale(1,0.86)" font-size="19.5" text-anchor="middle" fill="#1a1a1a">**</text>
<rect x="422.95" y="967.00" width="4.60" height="15.00" fill="#000" />
<text x="426.90" y="1006.20" font-size="20.4" text-anchor="middle" fill="#0c0c0c" stroke="#0c0c0c" stroke-width="0.35" font-style="italic">RAD54</text>
<rect x="503.00" y="941.00" width="24.50" height="26.00" fill="#75b5e5" />
<rect x="511.50" y="942.50" width="8.20" height="5.00" fill="#000" />
<rect x="538.70" y="823.80" width="25.10" height="143.20" fill="#fd7b7e" />
<rect x="549.20" y="816.20" width="5.40" height="23.80" fill="#000" />
<rect x="547.80" y="816.20" width="8.20" height="4.60" fill="#000" rx="0.6"/>
<rect x="547.80" y="835.40" width="8.20" height="4.60" fill="#000" rx="0.6"/>
<text transform="translate(553.00,815.60) scale(1,0.86)" font-size="19.5" text-anchor="middle" fill="#1a1a1a">**</text>
<rect x="575.50" y="790.50" width="25.30" height="176.50" fill="#dfbba4" />
<rect x="584.90" y="784.50" width="5.40" height="20.00" fill="#000" />
<rect x="583.50" y="784.50" width="8.20" height="4.60" fill="#000" rx="0.6"/>
<rect x="583.50" y="799.90" width="8.20" height="4.60" fill="#000" rx="0.6"/>
<text transform="translate(588.00,782.30) scale(1,0.86)" font-size="19.5" text-anchor="middle" fill="#1a1a1a">**</text>
<rect x="549.20" y="967.00" width="4.60" height="15.00" fill="#000" />
<text x="551.50" y="1006.20" font-size="20.4" text-anchor="middle" fill="#0c0c0c" stroke="#0c0c0c" stroke-width="0.35" font-style="italic">PARP2</text>
<rect x="628.20" y="941.00" width="25.60" height="26.00" fill="#75b5e5" />
<rect x="637.30" y="941.20" width="8.20" height="5.80" fill="#000" />
<rect x="664.50" y="835.80" width="24.30" height="131.20" fill="#fd7b7e" />
<rect x="674.00" y="833.20" width="5.80" height="13.60" fill="#000" />
<rect x="672.80" y="833.20" width="8.20" height="4.60" fill="#000" rx="0.6"/>
<rect x="672.80" y="842.20" width="8.20" height="4.60" fill="#000" rx="0.6"/>
<text transform="translate(676.80,831.60) scale(1,0.86)" font-size="19.5" text-anchor="middle" fill="#1a1a1a">**</text>
<rect x="700.00" y="784.20" width="25.00" height="182.80" fill="#dfbba4" />
<rect x="708.50" y="784.50" width="8.20" height="8.50" fill="#000" />
<text transform="translate(712.50,782.30) scale(1,0.86)" font-size="19.5" text-anchor="middle" fill="#1a1a1a">**</text>
<rect x="674.60" y="967.00" width="4.60" height="15.00" fill="#000" />
<text x="676.30" y="1006.20" font-size="20.4" text-anchor="middle" fill="#0c0c0c" stroke="#0c0c0c" stroke-width="0.35" font-style="italic">PARP1</text>
<rect x="753.00" y="941.00" width="25.30" height="26.00" fill="#75b5e5" />
<rect x="762.60" y="940.00" width="7.80" height="9.50" fill="#000" />
<rect x="790.00" y="899.20" width="24.50" height="67.80" fill="#fd7b7e" />
<rect x="797.80" y="897.50" width="8.20" height="10.50" fill="#000" />
<text transform="translate(802.50,895.60) scale(1,0.86)" font-size="19.5" text-anchor="middle" fill="#1a1a1a">**</text>
<rect x="825.00" y="899.20" width="25.00" height="67.80" fill="#dfbba4" />
<rect x="836.05" y="895.00" width="5.40" height="17.00" fill="#000" />
<rect x="834.65" y="895.00" width="8.20" height="4.60" fill="#000" rx="0.6"/>
<rect x="834.65" y="907.40" width="8.20" height="4.60" fill="#000" rx="0.6"/>
<text transform="translate(838.80,893.10) scale(1,0.86)" font-size="19.5" text-anchor="middle" fill="#1a1a1a">**</text>
<rect x="800.45" y="967.00" width="4.60" height="15.00" fill="#000" />
<text x="802.10" y="1006.20" font-size="20.4" text-anchor="middle" fill="#0c0c0c" stroke="#0c0c0c" stroke-width="0.35" font-style="italic">RPA1E</text>
<rect x="879.20" y="941.00" width="24.60" height="26.00" fill="#75b5e5" />
<rect x="887.15" y="941.20" width="8.20" height="6.30" fill="#000" />
<rect x="915.00" y="929.50" width="25.00" height="37.50" fill="#fd7b7e" />
<rect x="923.05" y="928.70" width="8.20" height="8.30" fill="#000" />
<text transform="translate(928.00,927.30) scale(1,0.86)" font-size="19.5" text-anchor="middle" fill="#1a1a1a">**</text>
<rect x="950.50" y="920.80" width="24.50" height="46.20" fill="#dfbba4" />
<rect x="959.00" y="921.20" width="8.20" height="7.60" fill="#000" />
<text transform="translate(963.80,919.10) scale(1,0.86)" font-size="19.5" text-anchor="middle" fill="#1a1a1a">**</text>
<rect x="924.20" y="967.00" width="4.60" height="15.00" fill="#000" />
<text x="926.50" y="1006.20" font-size="20.4" text-anchor="middle" fill="#0c0c0c" stroke="#0c0c0c" stroke-width="0.35" font-style="italic">PCNA1</text>
<rect x="1004.20" y="941.00" width="25.30" height="26.00" fill="#75b5e5" />
<rect x="1011.80" y="940.00" width="8.10" height="8.20" fill="#000" />
<rect x="1039.50" y="937.00" width="25.00" height="30.00" fill="#fd7b7e" />
<rect x="1048.40" y="936.20" width="8.20" height="10.00" fill="#000" />
<rect x="1076.20" y="946.20" width="24.60" height="20.80" fill="#dfbba4" />
<rect x="1084.00" y="945.00" width="8.20" height="10.00" fill="#000" />
<rect x="1049.20" y="967.00" width="4.60" height="15.00" fill="#000" />
<text x="1053.10" y="1006.20" font-size="20.4" text-anchor="middle" fill="#0c0c0c" stroke="#0c0c0c" stroke-width="0.35" font-style="italic">KU80</text>
<rect x="1129.50" y="941.00" width="25.00" height="26.00" fill="#75b5e5" />
<rect x="1137.60" y="941.20" width="8.10" height="7.00" fill="#000" />
<rect x="1165.50" y="942.50" width="24.50" height="24.50" fill="#fd7b7e" />
<rect x="1173.40" y="941.20" width="8.20" height="9.30" fill="#000" />
<rect x="1201.70" y="942.50" width="24.60" height="24.50" fill="#dfbba4" />
<rect x="1210.85" y="940.00" width="5.80" height="12.00" fill="#000" />
<rect x="1209.65" y="940.00" width="8.20" height="4.60" fill="#000" rx="0.6"/>
<rect x="1209.65" y="947.40" width="8.20" height="4.60" fill="#000" rx="0.6"/>
<rect x="1174.95" y="967.00" width="4.60" height="15.00" fill="#000" />
<text x="1178.50" y="1006.20" font-size="20.4" text-anchor="middle" fill="#0c0c0c" stroke="#0c0c0c" stroke-width="0.35" font-style="italic">KU70</text>
<rect x="1254.20" y="941.00" width="24.80" height="26.00" fill="#75b5e5" />
<rect x="1264.00" y="938.70" width="5.70" height="10.80" fill="#000" />
<rect x="1262.80" y="938.70" width="8.10" height="4.60" fill="#000" rx="0.6"/>
<rect x="1262.80" y="944.90" width="8.10" height="4.60" fill="#000" rx="0.6"/>
<rect x="1290.20" y="941.00" width="25.30" height="26.00" fill="#fd7b7e" />
<rect x="1300.50" y="938.70" width="5.80" height="12.50" fill="#000" />
<rect x="1299.30" y="938.70" width="8.20" height="4.60" fill="#000" rx="0.6"/>
<rect x="1299.30" y="946.60" width="8.20" height="4.60" fill="#000" rx="0.6"/>
<rect x="1326.00" y="942.50" width="24.30" height="24.50" fill="#dfbba4" />
<rect x="1334.40" y="941.20" width="8.20" height="10.00" fill="#000" />
<rect x="1300.60" y="967.00" width="4.60" height="15.00" fill="#000" />
<text x="1302.90" y="1006.20" font-size="20.4" text-anchor="middle" fill="#0c0c0c" stroke="#0c0c0c" stroke-width="0.35" font-style="italic">Polλ</text>
<rect x="1379.70" y="941.00" width="25.10" height="26.00" fill="#75b5e5" />
<rect x="1388.10" y="940.00" width="7.80" height="8.00" fill="#000" />
<rect x="1416.00" y="940.00" width="24.50" height="27.00" fill="#fd7b7e" />
<rect x="1424.10" y="938.70" width="8.10" height="9.30" fill="#000" />
<rect x="1451.50" y="944.20" width="24.50" height="22.80" fill="#dfbba4" />
<rect x="1460.00" y="945.00" width="8.20" height="5.50" fill="#000" />
<rect x="1425.60" y="967.00" width="4.60" height="15.00" fill="#000" />
<text x="1428.50" y="1006.20" font-size="20.4" text-anchor="middle" fill="#0c0c0c" stroke="#0c0c0c" stroke-width="0.35" font-style="italic">Lig4</text>
<rect x="111.40" y="613.70" width="5.10" height="356.40" fill="#000" />
<rect x="99.00" y="965.30" width="1390.00" height="4.80" fill="#000" />
<rect x="98.80" y="848.10" width="13.40" height="4.80" fill="#000" />
<rect x="98.80" y="731.50" width="13.40" height="4.80" fill="#000" />
<rect x="98.80" y="613.70" width="13.40" height="4.40" fill="#000" />
<text x="93.80" y="974.00" font-size="19.6" text-anchor="end" fill="#0c0c0c" stroke="#0c0c0c" stroke-width="0.35" >0</text>
<text x="93.80" y="857.40" font-size="19.6" text-anchor="end" fill="#0c0c0c" stroke="#0c0c0c" stroke-width="0.35" >5</text>
<text x="93.80" y="739.90" font-size="19.6" text-anchor="end" fill="#0c0c0c" stroke="#0c0c0c" stroke-width="0.35" >10</text>
<text x="93.80" y="624.20" font-size="19.6" text-anchor="end" fill="#0c0c0c" stroke="#0c0c0c" stroke-width="0.35" >15</text>
<text transform="translate(59.7,959.5) rotate(-90)" font-size="27.6" fill="#0c0c0c" stroke="#0c0c0c" stroke-width="0.3">Relative expression<tspan dx="1.7"> level</tspan></text>
<line x1="982.30" y1="978.70" x2="992.00" y2="950.60" stroke="#111" stroke-width="2.8" />
<line x1="988.60" y1="979.50" x2="1000.00" y2="951.20" stroke="#111" stroke-width="2.8" />
</g>
</svg>
</body></html>
